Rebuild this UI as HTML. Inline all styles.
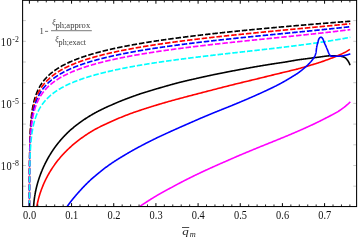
<!DOCTYPE html>
<html><head><meta charset="utf-8"><title>plot</title>
<style>
html,body{margin:0;padding:0;background:#fff;}
body{width:361px;height:240px;overflow:hidden;font-family:"Liberation Serif",serif;}
svg{display:block;will-change:transform;}
text{font-family:"Liberation Serif",serif;}
</style></head><body>
<svg width="361" height="240" viewBox="0 0 361 240">
<rect x="0" y="0" width="361" height="240" fill="#fff"/>
<defs><clipPath id="c"><rect x="22.6" y="0.3" width="334.0" height="206.75"/></clipPath></defs>
<g clip-path="url(#c)" fill="none" stroke-width="1.6" stroke-linejoin="round">
<g transform="scale(1,1.08)" stroke-width="1.55">
<path d="M29.41,198.36 L29.41,197.59 L29.41,196.82 L29.41,196.05 L29.41,195.27 L29.41,194.50 L29.41,193.73 L29.41,192.96 L29.41,192.19 L29.41,191.42 L29.41,190.65 L29.41,189.88 L29.41,189.11 L29.42,188.34 L29.42,187.57 L29.42,186.80 L29.42,186.03 L29.42,185.26 L29.42,184.49 L29.42,183.72 L29.42,182.95 L29.42,182.18 L29.42,181.41 L29.42,180.63 L29.43,179.86 L29.43,179.09 L29.43,178.32 L29.43,177.55 L29.43,176.78 L29.43,176.01 L29.43,175.24 L29.44,174.47 L29.44,173.70 L29.44,172.93 L29.44,172.16 L29.44,171.39 L29.45,170.62 L29.45,169.85 L29.45,169.08 L29.45,168.31 L29.45,167.54 L29.46,166.77 L29.46,165.99 L29.46,165.22 L29.47,164.45 L29.47,163.68 L29.47,162.91 L29.48,162.14 L29.48,161.37 L29.48,160.60 L29.49,159.83 L29.49,159.06 L29.49,158.29 L29.50,157.52 L29.50,156.75 L29.51,155.98 L29.51,155.21 L29.52,154.44 L29.53,153.67 L29.53,152.90 L29.54,152.13 L29.54,151.35 L29.55,150.58 L29.56,149.81 L29.57,149.04 L29.57,148.27 L29.58,147.50 L29.59,146.73 L29.60,145.96 L29.61,145.19 L29.62,144.42 L29.63,143.65 L29.64,142.88 L29.65,142.11 L29.66,141.34 L29.67,140.57 L29.69,139.80 L29.70,139.03 L29.72,138.26 L29.73,137.49 L29.75,136.72 L29.76,135.94 L29.78,135.17 L29.80,134.40 L29.82,133.63 L29.84,132.86 L29.86,132.09 L29.88,131.32 L29.90,130.55 L29.93,129.78 L29.95,129.01 L29.98,128.24 L30.00,127.47 L30.03,126.70 L30.06,125.93 L30.09,125.16 L30.13,124.39 L30.16,123.62 L30.20,122.85 L30.23,122.08 L30.27,121.30 L30.32,120.53 L30.36,119.76 L30.40,118.99 L30.45,118.22 L30.50,117.45 L30.55,116.68 L30.61,115.91 L30.67,115.14 L30.73,114.37 L30.79,113.60 L30.85,112.83 L30.92,112.06 L31.00,111.29 L31.07,110.52 L31.15,109.75 L31.23,108.98 L31.32,108.21 L31.41,107.44 L31.51,106.66 L31.61,105.89 L31.71,105.12 L31.82,104.35 L31.93,103.58 L32.05,102.81 L32.18,102.04 L32.31,101.27 L32.45,100.50 L32.59,99.73 L32.75,98.96 L32.90,98.19 L33.07,97.42 L33.24,96.65 L33.43,95.88 L33.62,95.11 L34.15,93.14 L34.67,91.38 L35.20,89.79 L35.73,88.34 L36.26,87.00 L36.79,85.77 L37.32,84.62 L37.85,83.54 L38.38,82.53 L38.90,81.58 L39.43,80.67 L39.96,79.82 L40.49,79.01 L41.02,78.23 L41.55,77.49 L42.08,76.78 L42.60,76.10 L43.13,75.44 L43.66,74.82 L44.19,74.21 L44.72,73.62 L45.25,73.06 L45.78,72.51 L46.31,71.98 L46.83,71.47 L47.36,70.97 L47.89,70.49 L48.42,70.02 L48.95,69.56 L49.48,69.12 L50.01,68.68 L50.53,68.26 L51.06,67.85 L51.59,67.45 L52.12,67.05 L52.65,66.67 L53.18,66.29 L53.71,65.93 L54.24,65.57 L54.76,65.22 L55.29,64.87 L55.82,64.53 L56.35,64.20 L56.88,63.88 L57.41,63.56 L57.94,63.25 L58.47,62.94 L58.99,62.64 L59.52,62.35 L60.05,62.05 L60.58,61.77 L61.11,61.49 L61.64,61.21 L62.17,60.94 L62.69,60.67 L63.22,60.41 L63.75,60.15 L64.28,59.89 L64.81,59.64 L65.34,59.39 L65.87,59.15 L66.40,58.91 L66.92,58.67 L67.45,58.44 L67.98,58.21 L68.51,57.98 L69.04,57.75 L69.57,57.53 L70.10,57.31 L70.63,57.10 L71.15,56.88 L71.68,56.67 L72.21,56.46 L72.74,56.26 L73.27,56.05 L73.80,55.85 L74.33,55.65 L74.85,55.46 L75.38,55.26 L75.91,55.07 L76.44,54.88 L76.97,54.69 L77.50,54.51 L78.03,54.33 L78.56,54.14 L79.08,53.96 L79.61,53.79 L80.14,53.61 L80.67,53.44 L81.20,53.26 L81.73,53.09 L82.26,52.92 L82.78,52.76 L83.31,52.59 L83.84,52.43 L84.37,52.26 L84.90,52.10 L85.43,51.94 L85.96,51.78 L86.49,51.63 L87.01,51.47 L87.54,51.32 L88.07,51.16 L88.60,51.01 L89.13,50.86 L89.66,50.71 L90.19,50.57 L90.72,50.42 L91.24,50.28 L91.77,50.13 L92.30,49.99 L92.83,49.85 L93.36,49.71 L93.89,49.57 L94.42,49.43 L94.94,49.29 L95.47,49.16 L96.00,49.02 L96.53,48.89 L97.06,48.75 L97.59,48.62 L98.12,48.49 L98.65,48.36 L99.17,48.23 L99.70,48.11 L100.23,47.98 L100.76,47.85 L101.29,47.73 L101.82,47.60 L102.35,47.48 L102.87,47.36 L103.40,47.23 L103.93,47.11 L104.46,46.99 L104.99,46.87 L105.52,46.75 L106.05,46.64 L106.58,46.52 L107.10,46.40 L107.63,46.29 L108.16,46.17 L108.69,46.06 L109.22,45.95 L109.75,45.83 L110.28,45.72 L110.81,45.61 L111.33,45.50 L111.86,45.39 L112.39,45.28 L112.92,45.17 L113.45,45.06 L113.98,44.96 L114.51,44.85 L115.03,44.74 L115.56,44.64 L116.09,44.53 L116.62,44.43 L117.15,44.33 L117.68,44.22 L118.21,44.12 L118.74,44.02 L119.26,43.92 L119.79,43.82 L120.32,43.72 L120.85,43.62 L121.38,43.52 L121.91,43.42 L122.44,43.32 L122.96,43.22 L123.49,43.13 L124.02,43.03 L124.55,42.93 L125.08,42.84 L125.61,42.74 L126.14,42.65 L126.67,42.55 L127.19,42.46 L127.72,42.37 L128.25,42.28 L128.78,42.18 L129.31,42.09 L129.84,42.00 L130.37,41.91 L130.90,41.82 L131.42,41.73 L131.95,41.64 L132.48,41.55 L133.01,41.46 L133.54,41.37 L134.07,41.29 L134.60,41.20 L135.12,41.11 L135.65,41.02 L136.18,40.94 L136.71,40.85 L137.24,40.77 L137.77,40.68 L138.30,40.60 L138.83,40.51 L139.35,40.43 L139.88,40.34 L140.41,40.26 L140.94,40.18 L141.47,40.10 L142.00,40.01 L142.53,39.93 L143.06,39.85 L143.58,39.77 L144.11,39.69 L144.64,39.61 L145.17,39.53 L145.70,39.45 L146.23,39.37 L146.76,39.29 L147.28,39.21 L147.81,39.13 L148.34,39.05 L148.87,38.98 L149.40,38.90 L149.93,38.82 L150.46,38.74 L150.99,38.67 L151.51,38.59 L152.04,38.51 L152.57,38.44 L153.10,38.36 L153.63,38.29 L154.16,38.21 L154.69,38.14 L155.21,38.06 L155.74,37.99 L156.27,37.92 L156.80,37.84 L157.33,37.77 L157.86,37.70 L158.39,37.62 L158.92,37.55 L159.44,37.48 L159.97,37.41 L160.50,37.33 L161.03,37.26 L161.56,37.19 L162.09,37.12 L162.62,37.05 L163.15,36.98 L163.67,36.91 L164.20,36.84 L164.73,36.77 L165.26,36.70 L165.79,36.63 L166.32,36.56 L166.85,36.49 L167.37,36.42 L167.90,36.36 L168.43,36.29 L168.96,36.22 L169.49,36.15 L170.02,36.08 L170.55,36.02 L171.08,35.95 L171.60,35.88 L172.13,35.82 L172.66,35.75 L173.19,35.68 L173.72,35.62 L174.25,35.55 L174.78,35.49 L175.30,35.42 L175.83,35.36 L176.36,35.29 L176.89,35.23 L177.42,35.16 L177.95,35.10 L178.48,35.03 L179.01,34.97 L179.53,34.90 L180.06,34.84 L180.59,34.78 L181.12,34.71 L181.65,34.65 L182.18,34.59 L182.71,34.53 L183.24,34.46 L183.76,34.40 L184.29,34.34 L184.82,34.28 L185.35,34.21 L185.88,34.15 L186.41,34.09 L186.94,34.03 L187.46,33.97 L187.99,33.91 L188.52,33.85 L189.05,33.79 L189.58,33.73 L190.11,33.67 L190.64,33.61 L191.17,33.55 L191.69,33.49 L192.22,33.43 L192.75,33.37 L193.28,33.31 L193.81,33.25 L194.34,33.19 L194.87,33.13 L195.39,33.07 L195.92,33.01 L196.45,32.95 L196.98,32.90 L197.51,32.84 L198.04,32.78 L198.57,32.72 L199.10,32.66 L199.62,32.61 L200.15,32.55 L200.68,32.49 L201.21,32.43 L201.74,32.38 L202.27,32.32 L202.80,32.26 L203.33,32.21 L203.85,32.15 L204.38,32.09 L204.91,32.04 L205.44,31.98 L205.97,31.93 L206.50,31.87 L207.03,31.81 L207.55,31.76 L208.08,31.70 L208.61,31.65 L209.14,31.59 L209.67,31.54 L210.20,31.48 L210.73,31.43 L211.26,31.37 L211.78,31.32 L212.31,31.26 L212.84,31.21 L213.37,31.16 L213.90,31.10 L214.43,31.05 L214.96,30.99 L215.49,30.94 L216.01,30.89 L216.54,30.83 L217.07,30.78 L217.60,30.73 L218.13,30.67 L218.66,30.62 L219.19,30.57 L219.71,30.51 L220.24,30.46 L220.77,30.41 L221.30,30.36 L221.83,30.30 L222.36,30.25 L222.89,30.20 L223.42,30.15 L223.94,30.10 L224.47,30.04 L225.00,29.99 L225.53,29.94 L226.06,29.89 L226.59,29.84 L227.12,29.79 L227.64,29.74 L228.17,29.68 L228.70,29.63 L229.23,29.58 L229.76,29.53 L230.29,29.48 L230.82,29.43 L231.35,29.38 L231.87,29.33 L232.40,29.28 L232.93,29.23 L233.46,29.18 L233.99,29.13 L234.52,29.08 L235.05,29.03 L235.58,28.98 L236.10,28.93 L236.63,28.88 L237.16,28.83 L237.69,28.78 L238.22,28.73 L238.75,28.68 L239.28,28.63 L239.80,28.58 L240.33,28.53 L240.86,28.49 L241.39,28.44 L241.92,28.39 L242.45,28.34 L242.98,28.29 L243.51,28.24 L244.03,28.19 L244.56,28.15 L245.09,28.10 L245.62,28.05 L246.15,28.00 L246.68,27.95 L247.21,27.91 L247.73,27.86 L248.26,27.81 L248.79,27.76 L249.32,27.71 L249.85,27.67 L250.38,27.62 L250.91,27.57 L251.44,27.53 L251.96,27.48 L252.49,27.43 L253.02,27.38 L253.55,27.34 L254.08,27.29 L254.61,27.24 L255.14,27.20 L255.67,27.15 L256.19,27.10 L256.72,27.06 L257.25,27.01 L257.78,26.96 L258.31,26.92 L258.84,26.87 L259.37,26.83 L259.89,26.78 L260.42,26.73 L260.95,26.69 L261.48,26.64 L262.01,26.60 L262.54,26.55 L263.07,26.50 L263.60,26.46 L264.12,26.41 L264.65,26.37 L265.18,26.32 L265.71,26.28 L266.24,26.23 L266.77,26.19 L267.30,26.14 L267.82,26.10 L268.35,26.05 L268.88,26.01 L269.41,25.96 L269.94,25.92 L270.47,25.87 L271.00,25.83 L271.53,25.78 L272.05,25.74 L272.58,25.69 L273.11,25.65 L273.64,25.60 L274.17,25.56 L274.70,25.52 L275.23,25.47 L275.76,25.43 L276.28,25.38 L276.81,25.34 L277.34,25.29 L277.87,25.25 L278.40,25.21 L278.93,25.16 L279.46,25.12 L279.98,25.08 L280.51,25.03 L281.04,24.99 L281.57,24.94 L282.10,24.90 L282.63,24.86 L283.16,24.81 L283.69,24.77 L284.21,24.73 L284.74,24.68 L285.27,24.64 L285.80,24.60 L286.33,24.55 L286.86,24.51 L287.39,24.47 L287.92,24.43 L288.44,24.38 L288.97,24.34 L289.50,24.30 L290.03,24.25 L290.56,24.21 L291.09,24.17 L291.62,24.13 L292.14,24.08 L292.67,24.04 L293.20,24.00 L293.73,23.96 L294.26,23.92 L294.79,23.87 L295.32,23.83 L295.85,23.79 L296.37,23.75 L296.90,23.70 L297.43,23.66 L297.96,23.62 L298.49,23.58 L299.02,23.54 L299.55,23.49 L300.07,23.45 L300.60,23.41 L301.13,23.37 L301.66,23.33 L302.19,23.29 L302.72,23.24 L303.25,23.20 L303.78,23.16 L304.30,23.12 L304.83,23.08 L305.36,23.04 L305.89,23.00 L306.42,22.95 L306.95,22.91 L307.48,22.87 L308.01,22.83 L308.53,22.79 L309.06,22.75 L309.59,22.71 L310.12,22.67 L310.65,22.63 L311.18,22.59 L311.71,22.54 L312.23,22.50 L312.76,22.46 L313.29,22.42 L313.82,22.38 L314.35,22.34 L314.88,22.30 L315.41,22.26 L315.94,22.22 L316.46,22.18 L316.99,22.14 L317.52,22.10 L318.05,22.06 L318.58,22.02 L319.11,21.98 L319.64,21.94 L320.16,21.90 L320.69,21.86 L321.22,21.82 L321.75,21.78 L322.28,21.74 L322.81,21.70 L323.34,21.66 L323.87,21.62 L324.39,21.58 L324.92,21.54 L325.45,21.50 L325.98,21.46 L326.51,21.42 L327.04,21.38 L327.57,21.34 L328.10,21.30 L328.62,21.26 L329.15,21.22 L329.68,21.18 L330.21,21.14 L330.74,21.10 L331.27,21.06 L331.80,21.02 L332.32,20.98 L332.85,20.94 L333.38,20.90 L333.91,20.86 L334.44,20.82 L334.97,20.78 L335.50,20.74 L336.03,20.71 L336.55,20.67 L337.08,20.63 L337.61,20.59 L338.14,20.55 L338.67,20.51 L339.20,20.47 L339.73,20.43 L340.25,20.39 L340.78,20.35 L341.31,20.32 L341.84,20.28 L342.37,20.24 L342.90,20.20 L343.43,20.16 L343.96,20.12 L344.48,20.08 L345.01,20.04 L345.54,20.01 L346.07,19.97 L346.60,19.93 L347.13,19.89 L347.66,19.85 L348.19,19.81 L348.71,19.77 L349.24,19.74 L349.77,19.70 L350.30,19.66" stroke="#000" stroke-dasharray="5.5 1.9" stroke-dashoffset="0"/>
<path d="M29.41,198.65 L29.41,197.88 L29.41,197.11 L29.41,196.34 L29.41,195.57 L29.41,194.80 L29.41,194.02 L29.41,193.25 L29.41,192.48 L29.42,191.71 L29.42,190.94 L29.42,190.17 L29.42,189.40 L29.42,188.63 L29.42,187.86 L29.42,187.09 L29.42,186.32 L29.42,185.55 L29.42,184.78 L29.42,184.01 L29.43,183.24 L29.43,182.47 L29.43,181.70 L29.43,180.93 L29.43,180.16 L29.43,179.38 L29.43,178.61 L29.44,177.84 L29.44,177.07 L29.44,176.30 L29.44,175.53 L29.44,174.76 L29.45,173.99 L29.45,173.22 L29.45,172.45 L29.45,171.68 L29.45,170.91 L29.46,170.14 L29.46,169.37 L29.46,168.60 L29.47,167.83 L29.47,167.06 L29.47,166.29 L29.48,165.52 L29.48,164.75 L29.48,163.97 L29.49,163.20 L29.49,162.43 L29.49,161.66 L29.50,160.89 L29.50,160.12 L29.51,159.35 L29.51,158.58 L29.52,157.81 L29.53,157.04 L29.53,156.27 L29.54,155.50 L29.54,154.73 L29.55,153.96 L29.56,153.19 L29.57,152.42 L29.57,151.65 L29.58,150.88 L29.59,150.11 L29.60,149.33 L29.61,148.56 L29.62,147.79 L29.63,147.02 L29.64,146.25 L29.65,145.48 L29.66,144.71 L29.67,143.94 L29.69,143.17 L29.70,142.40 L29.72,141.63 L29.73,140.86 L29.75,140.09 L29.76,139.32 L29.78,138.55 L29.80,137.78 L29.82,137.01 L29.84,136.24 L29.86,135.47 L29.88,134.69 L29.90,133.92 L29.93,133.15 L29.95,132.38 L29.98,131.61 L30.00,130.84 L30.03,130.07 L30.06,129.30 L30.09,128.53 L30.13,127.76 L30.16,126.99 L30.20,126.22 L30.23,125.45 L30.27,124.68 L30.32,123.91 L30.36,123.14 L30.40,122.37 L30.45,121.60 L30.50,120.83 L30.55,120.05 L30.61,119.28 L30.67,118.51 L30.73,117.74 L30.79,116.97 L30.85,116.20 L30.92,115.43 L31.00,114.66 L31.07,113.89 L31.15,113.12 L31.23,112.35 L31.32,111.58 L31.41,110.81 L31.51,110.04 L31.61,109.27 L31.71,108.50 L31.82,107.73 L31.93,106.96 L32.05,106.19 L32.18,105.41 L32.31,104.64 L32.45,103.87 L32.59,103.10 L32.75,102.33 L32.90,101.56 L33.07,100.79 L33.24,100.02 L33.43,99.25 L33.62,98.48 L34.15,96.51 L34.67,94.75 L35.20,93.16 L35.73,91.71 L36.26,90.38 L36.79,89.14 L37.32,87.99 L37.85,86.91 L38.38,85.90 L38.90,84.95 L39.43,84.05 L39.96,83.19 L40.49,82.38 L41.02,81.60 L41.55,80.86 L42.08,80.15 L42.60,79.47 L43.13,78.82 L43.66,78.19 L44.19,77.58 L44.72,77.00 L45.25,76.43 L45.78,75.88 L46.31,75.36 L46.83,74.84 L47.36,74.34 L47.89,73.86 L48.42,73.39 L48.95,72.93 L49.48,72.49 L50.01,72.06 L50.53,71.63 L51.06,71.22 L51.59,70.82 L52.12,70.43 L52.65,70.04 L53.18,69.67 L53.71,69.30 L54.24,68.94 L54.76,68.59 L55.29,68.25 L55.82,67.91 L56.35,67.58 L56.88,67.25 L57.41,66.93 L57.94,66.62 L58.47,66.32 L58.99,66.01 L59.52,65.72 L60.05,65.43 L60.58,65.14 L61.11,64.86 L61.64,64.58 L62.17,64.31 L62.69,64.05 L63.22,63.78 L63.75,63.52 L64.28,63.27 L64.81,63.02 L65.34,62.77 L65.87,62.52 L66.40,62.28 L66.92,62.04 L67.45,61.81 L67.98,61.58 L68.51,61.35 L69.04,61.13 L69.57,60.90 L70.10,60.69 L70.63,60.47 L71.15,60.26 L71.68,60.04 L72.21,59.84 L72.74,59.63 L73.27,59.43 L73.80,59.23 L74.33,59.03 L74.85,58.83 L75.38,58.64 L75.91,58.45 L76.44,58.26 L76.97,58.07 L77.50,57.88 L78.03,57.70 L78.56,57.52 L79.08,57.34 L79.61,57.16 L80.14,56.98 L80.67,56.81 L81.20,56.64 L81.73,56.47 L82.26,56.30 L82.78,56.13 L83.31,55.96 L83.84,55.80 L84.37,55.64 L84.90,55.47 L85.43,55.32 L85.96,55.16 L86.49,55.00 L87.01,54.84 L87.54,54.69 L88.07,54.54 L88.60,54.39 L89.13,54.24 L89.66,54.09 L90.19,53.94 L90.72,53.79 L91.24,53.65 L91.77,53.50 L92.30,53.36 L92.83,53.22 L93.36,53.08 L93.89,52.94 L94.42,52.80 L94.94,52.67 L95.47,52.53 L96.00,52.40 L96.53,52.26 L97.06,52.13 L97.59,52.00 L98.12,51.87 L98.65,51.74 L99.17,51.61 L99.70,51.48 L100.23,51.35 L100.76,51.23 L101.29,51.10 L101.82,50.98 L102.35,50.85 L102.87,50.73 L103.40,50.61 L103.93,50.49 L104.46,50.37 L104.99,50.25 L105.52,50.13 L106.05,50.01 L106.58,49.89 L107.10,49.78 L107.63,49.66 L108.16,49.55 L108.69,49.43 L109.22,49.32 L109.75,49.21 L110.28,49.09 L110.81,48.98 L111.33,48.87 L111.86,48.76 L112.39,48.65 L112.92,48.54 L113.45,48.44 L113.98,48.33 L114.51,48.22 L115.03,48.12 L115.56,48.01 L116.09,47.91 L116.62,47.80 L117.15,47.70 L117.68,47.60 L118.21,47.49 L118.74,47.39 L119.26,47.29 L119.79,47.19 L120.32,47.09 L120.85,46.99 L121.38,46.89 L121.91,46.79 L122.44,46.69 L122.96,46.60 L123.49,46.50 L124.02,46.40 L124.55,46.31 L125.08,46.21 L125.61,46.12 L126.14,46.02 L126.67,45.93 L127.19,45.83 L127.72,45.74 L128.25,45.65 L128.78,45.56 L129.31,45.46 L129.84,45.37 L130.37,45.28 L130.90,45.19 L131.42,45.10 L131.95,45.01 L132.48,44.92 L133.01,44.83 L133.54,44.75 L134.07,44.66 L134.60,44.57 L135.12,44.48 L135.65,44.40 L136.18,44.31 L136.71,44.22 L137.24,44.14 L137.77,44.05 L138.30,43.97 L138.83,43.88 L139.35,43.80 L139.88,43.72 L140.41,43.63 L140.94,43.55 L141.47,43.47 L142.00,43.39 L142.53,43.30 L143.06,43.22 L143.58,43.14 L144.11,43.06 L144.64,42.98 L145.17,42.90 L145.70,42.82 L146.23,42.74 L146.76,42.66 L147.28,42.58 L147.81,42.50 L148.34,42.43 L148.87,42.35 L149.40,42.27 L149.93,42.19 L150.46,42.12 L150.99,42.04 L151.51,41.96 L152.04,41.89 L152.57,41.81 L153.10,41.73 L153.63,41.66 L154.16,41.58 L154.69,41.51 L155.21,41.43 L155.74,41.36 L156.27,41.29 L156.80,41.21 L157.33,41.14 L157.86,41.07 L158.39,40.99 L158.92,40.92 L159.44,40.85 L159.97,40.78 L160.50,40.70 L161.03,40.63 L161.56,40.56 L162.09,40.49 L162.62,40.42 L163.15,40.35 L163.67,40.28 L164.20,40.21 L164.73,40.14 L165.26,40.07 L165.79,40.00 L166.32,39.93 L166.85,39.86 L167.37,39.79 L167.90,39.72 L168.43,39.66 L168.96,39.59 L169.49,39.52 L170.02,39.45 L170.55,39.39 L171.08,39.32 L171.60,39.25 L172.13,39.18 L172.66,39.12 L173.19,39.05 L173.72,38.98 L174.25,38.92 L174.78,38.85 L175.30,38.79 L175.83,38.72 L176.36,38.66 L176.89,38.59 L177.42,38.53 L177.95,38.46 L178.48,38.40 L179.01,38.33 L179.53,38.27 L180.06,38.21 L180.59,38.14 L181.12,38.08 L181.65,38.02 L182.18,37.95 L182.71,37.89 L183.24,37.83 L183.76,37.76 L184.29,37.70 L184.82,37.64 L185.35,37.58 L185.88,37.52 L186.41,37.45 L186.94,37.39 L187.46,37.33 L187.99,37.27 L188.52,37.21 L189.05,37.15 L189.58,37.09 L190.11,37.03 L190.64,36.97 L191.17,36.91 L191.69,36.85 L192.22,36.79 L192.75,36.73 L193.28,36.67 L193.81,36.61 L194.34,36.55 L194.87,36.49 L195.39,36.43 L195.92,36.37 L196.45,36.31 L196.98,36.25 L197.51,36.19 L198.04,36.14 L198.57,36.08 L199.10,36.02 L199.62,35.96 L200.15,35.90 L200.68,35.85 L201.21,35.79 L201.74,35.73 L202.27,35.67 L202.80,35.62 L203.33,35.56 L203.85,35.50 L204.38,35.45 L204.91,35.39 L205.44,35.33 L205.97,35.28 L206.50,35.22 L207.03,35.16 L207.55,35.11 L208.08,35.05 L208.61,35.00 L209.14,34.94 L209.67,34.88 L210.20,34.83 L210.73,34.77 L211.26,34.72 L211.78,34.66 L212.31,34.61 L212.84,34.55 L213.37,34.50 L213.90,34.44 L214.43,34.39 L214.96,34.34 L215.49,34.28 L216.01,34.23 L216.54,34.17 L217.07,34.12 L217.60,34.06 L218.13,34.01 L218.66,33.96 L219.19,33.90 L219.71,33.85 L220.24,33.80 L220.77,33.74 L221.30,33.69 L221.83,33.64 L222.36,33.58 L222.89,33.53 L223.42,33.48 L223.94,33.43 L224.47,33.37 L225.00,33.32 L225.53,33.27 L226.06,33.22 L226.59,33.16 L227.12,33.11 L227.64,33.06 L228.17,33.01 L228.70,32.96 L229.23,32.90 L229.76,32.85 L230.29,32.80 L230.82,32.75 L231.35,32.70 L231.87,32.65 L232.40,32.60 L232.93,32.54 L233.46,32.49 L233.99,32.44 L234.52,32.39 L235.05,32.34 L235.58,32.29 L236.10,32.24 L236.63,32.19 L237.16,32.14 L237.69,32.09 L238.22,32.04 L238.75,31.99 L239.28,31.94 L239.80,31.89 L240.33,31.84 L240.86,31.79 L241.39,31.74 L241.92,31.69 L242.45,31.64 L242.98,31.59 L243.51,31.54 L244.03,31.49 L244.56,31.44 L245.09,31.39 L245.62,31.34 L246.15,31.29 L246.68,31.24 L247.21,31.19 L247.73,31.14 L248.26,31.09 L248.79,31.04 L249.32,30.99 L249.85,30.94 L250.38,30.90 L250.91,30.85 L251.44,30.80 L251.96,30.75 L252.49,30.70 L253.02,30.65 L253.55,30.60 L254.08,30.55 L254.61,30.51 L255.14,30.46 L255.67,30.41 L256.19,30.36 L256.72,30.31 L257.25,30.26 L257.78,30.22 L258.31,30.17 L258.84,30.12 L259.37,30.07 L259.89,30.02 L260.42,29.98 L260.95,29.93 L261.48,29.88 L262.01,29.83 L262.54,29.78 L263.07,29.74 L263.60,29.69 L264.12,29.64 L264.65,29.59 L265.18,29.55 L265.71,29.50 L266.24,29.45 L266.77,29.40 L267.30,29.36 L267.82,29.31 L268.35,29.26 L268.88,29.21 L269.41,29.17 L269.94,29.12 L270.47,29.07 L271.00,29.03 L271.53,28.98 L272.05,28.93 L272.58,28.88 L273.11,28.84 L273.64,28.79 L274.17,28.74 L274.70,28.70 L275.23,28.65 L275.76,28.60 L276.28,28.56 L276.81,28.51 L277.34,28.46 L277.87,28.42 L278.40,28.37 L278.93,28.32 L279.46,28.28 L279.98,28.23 L280.51,28.18 L281.04,28.14 L281.57,28.09 L282.10,28.04 L282.63,28.00 L283.16,27.95 L283.69,27.90 L284.21,27.86 L284.74,27.81 L285.27,27.76 L285.80,27.72 L286.33,27.67 L286.86,27.62 L287.39,27.58 L287.92,27.53 L288.44,27.49 L288.97,27.44 L289.50,27.39 L290.03,27.35 L290.56,27.30 L291.09,27.25 L291.62,27.21 L292.14,27.16 L292.67,27.11 L293.20,27.07 L293.73,27.02 L294.26,26.98 L294.79,26.93 L295.32,26.88 L295.85,26.84 L296.37,26.79 L296.90,26.74 L297.43,26.70 L297.96,26.65 L298.49,26.61 L299.02,26.56 L299.55,26.51 L300.07,26.47 L300.60,26.42 L301.13,26.37 L301.66,26.33 L302.19,26.28 L302.72,26.24 L303.25,26.19 L303.78,26.14 L304.30,26.10 L304.83,26.05 L305.36,26.00 L305.89,25.96 L306.42,25.91 L306.95,25.87 L307.48,25.82 L308.01,25.77 L308.53,25.73 L309.06,25.68 L309.59,25.63 L310.12,25.59 L310.65,25.54 L311.18,25.49 L311.71,25.45 L312.23,25.40 L312.76,25.35 L313.29,25.31 L313.82,25.26 L314.35,25.21 L314.88,25.17 L315.41,25.12 L315.94,25.08 L316.46,25.03 L316.99,24.98 L317.52,24.94 L318.05,24.89 L318.58,24.84 L319.11,24.80 L319.64,24.75 L320.16,24.70 L320.69,24.65 L321.22,24.61 L321.75,24.56 L322.28,24.51 L322.81,24.47 L323.34,24.42 L323.87,24.37 L324.39,24.33 L324.92,24.28 L325.45,24.23 L325.98,24.18 L326.51,24.14 L327.04,24.09 L327.57,24.04 L328.10,24.00 L328.62,23.95 L329.15,23.90 L329.68,23.85 L330.21,23.81 L330.74,23.76 L331.27,23.71 L331.80,23.66 L332.32,23.62 L332.85,23.57 L333.38,23.52 L333.91,23.47 L334.44,23.42 L334.97,23.38 L335.50,23.33 L336.03,23.28 L336.55,23.23 L337.08,23.18 L337.61,23.14 L338.14,23.09 L338.67,23.04 L339.20,22.99 L339.73,22.94 L340.25,22.90 L340.78,22.85 L341.31,22.80 L341.84,22.75 L342.37,22.70 L342.90,22.65 L343.43,22.60 L343.96,22.55 L344.48,22.51 L345.01,22.46 L345.54,22.41 L346.07,22.36 L346.60,22.31 L347.13,22.26 L347.66,22.21 L348.19,22.16 L348.71,22.11 L349.24,22.06 L349.77,22.01 L350.30,21.96" stroke="#f00" stroke-dasharray="5.5 1.9" stroke-dashoffset="-1.0"/>
<path d="M29.41,198.77 L29.41,198.00 L29.41,197.23 L29.41,196.46 L29.41,195.68 L29.42,194.91 L29.42,194.14 L29.42,193.37 L29.42,192.60 L29.42,191.83 L29.42,191.06 L29.42,190.29 L29.42,189.52 L29.42,188.75 L29.42,187.98 L29.42,187.21 L29.43,186.44 L29.43,185.67 L29.43,184.90 L29.43,184.13 L29.43,183.36 L29.43,182.59 L29.43,181.82 L29.44,181.04 L29.44,180.27 L29.44,179.50 L29.44,178.73 L29.44,177.96 L29.45,177.19 L29.45,176.42 L29.45,175.65 L29.45,174.88 L29.45,174.11 L29.46,173.34 L29.46,172.57 L29.46,171.80 L29.47,171.03 L29.47,170.26 L29.47,169.49 L29.48,168.72 L29.48,167.95 L29.48,167.18 L29.49,166.40 L29.49,165.63 L29.49,164.86 L29.50,164.09 L29.50,163.32 L29.51,162.55 L29.51,161.78 L29.52,161.01 L29.53,160.24 L29.53,159.47 L29.54,158.70 L29.54,157.93 L29.55,157.16 L29.56,156.39 L29.57,155.62 L29.57,154.85 L29.58,154.08 L29.59,153.31 L29.60,152.54 L29.61,151.76 L29.62,150.99 L29.63,150.22 L29.64,149.45 L29.65,148.68 L29.66,147.91 L29.67,147.14 L29.69,146.37 L29.70,145.60 L29.72,144.83 L29.73,144.06 L29.75,143.29 L29.76,142.52 L29.78,141.75 L29.80,140.98 L29.82,140.21 L29.84,139.44 L29.86,138.67 L29.88,137.90 L29.90,137.13 L29.93,136.35 L29.95,135.58 L29.98,134.81 L30.00,134.04 L30.03,133.27 L30.06,132.50 L30.09,131.73 L30.13,130.96 L30.16,130.19 L30.20,129.42 L30.23,128.65 L30.27,127.88 L30.32,127.11 L30.36,126.34 L30.40,125.57 L30.45,124.80 L30.50,124.03 L30.55,123.26 L30.61,122.49 L30.67,121.71 L30.73,120.94 L30.79,120.17 L30.85,119.40 L30.92,118.63 L31.00,117.86 L31.07,117.09 L31.15,116.32 L31.23,115.55 L31.32,114.78 L31.41,114.01 L31.51,113.24 L31.61,112.47 L31.71,111.70 L31.82,110.93 L31.93,110.16 L32.05,109.39 L32.18,108.62 L32.31,107.85 L32.45,107.07 L32.59,106.30 L32.75,105.53 L32.90,104.76 L33.07,103.99 L33.24,103.22 L33.43,102.45 L33.62,101.68 L34.15,99.71 L34.67,97.96 L35.20,96.37 L35.73,94.91 L36.26,93.58 L36.79,92.34 L37.32,91.19 L37.85,90.11 L38.38,89.10 L38.90,88.15 L39.43,87.25 L39.96,86.39 L40.49,85.58 L41.02,84.80 L41.55,84.06 L42.08,83.35 L42.60,82.67 L43.13,82.02 L43.66,81.39 L44.19,80.78 L44.72,80.20 L45.25,79.63 L45.78,79.09 L46.31,78.56 L46.83,78.04 L47.36,77.54 L47.89,77.06 L48.42,76.59 L48.95,76.13 L49.48,75.69 L50.01,75.26 L50.53,74.83 L51.06,74.42 L51.59,74.02 L52.12,73.63 L52.65,73.24 L53.18,72.87 L53.71,72.50 L54.24,72.14 L54.76,71.79 L55.29,71.45 L55.82,71.11 L56.35,70.78 L56.88,70.45 L57.41,70.14 L57.94,69.82 L58.47,69.52 L58.99,69.22 L59.52,68.92 L60.05,68.63 L60.58,68.34 L61.11,68.06 L61.64,67.79 L62.17,67.51 L62.69,67.25 L63.22,66.98 L63.75,66.72 L64.28,66.47 L64.81,66.22 L65.34,65.97 L65.87,65.72 L66.40,65.48 L66.92,65.25 L67.45,65.01 L67.98,64.78 L68.51,64.55 L69.04,64.33 L69.57,64.11 L70.10,63.89 L70.63,63.67 L71.15,63.46 L71.68,63.25 L72.21,63.04 L72.74,62.83 L73.27,62.63 L73.80,62.43 L74.33,62.23 L74.85,62.03 L75.38,61.84 L75.91,61.65 L76.44,61.46 L76.97,61.27 L77.50,61.08 L78.03,60.90 L78.56,60.72 L79.08,60.54 L79.61,60.36 L80.14,60.18 L80.67,60.01 L81.20,59.84 L81.73,59.67 L82.26,59.50 L82.78,59.33 L83.31,59.16 L83.84,59.00 L84.37,58.84 L84.90,58.68 L85.43,58.52 L85.96,58.36 L86.49,58.20 L87.01,58.05 L87.54,57.89 L88.07,57.74 L88.60,57.59 L89.13,57.44 L89.66,57.29 L90.19,57.14 L90.72,56.99 L91.24,56.85 L91.77,56.71 L92.30,56.56 L92.83,56.42 L93.36,56.28 L93.89,56.14 L94.42,56.00 L94.94,55.87 L95.47,55.73 L96.00,55.60 L96.53,55.46 L97.06,55.33 L97.59,55.20 L98.12,55.07 L98.65,54.94 L99.17,54.81 L99.70,54.68 L100.23,54.55 L100.76,54.43 L101.29,54.30 L101.82,54.18 L102.35,54.05 L102.87,53.93 L103.40,53.81 L103.93,53.69 L104.46,53.57 L104.99,53.45 L105.52,53.33 L106.05,53.21 L106.58,53.09 L107.10,52.98 L107.63,52.86 L108.16,52.75 L108.69,52.63 L109.22,52.52 L109.75,52.41 L110.28,52.29 L110.81,52.18 L111.33,52.07 L111.86,51.96 L112.39,51.85 L112.92,51.75 L113.45,51.64 L113.98,51.53 L114.51,51.42 L115.03,51.32 L115.56,51.21 L116.09,51.11 L116.62,51.00 L117.15,50.90 L117.68,50.80 L118.21,50.69 L118.74,50.59 L119.26,50.49 L119.79,50.39 L120.32,50.29 L120.85,50.19 L121.38,50.09 L121.91,49.99 L122.44,49.89 L122.96,49.80 L123.49,49.70 L124.02,49.60 L124.55,49.51 L125.08,49.41 L125.61,49.32 L126.14,49.22 L126.67,49.13 L127.19,49.03 L127.72,48.94 L128.25,48.85 L128.78,48.76 L129.31,48.66 L129.84,48.57 L130.37,48.48 L130.90,48.39 L131.42,48.30 L131.95,48.21 L132.48,48.12 L133.01,48.03 L133.54,47.95 L134.07,47.86 L134.60,47.77 L135.12,47.68 L135.65,47.60 L136.18,47.51 L136.71,47.42 L137.24,47.34 L137.77,47.25 L138.30,47.17 L138.83,47.08 L139.35,47.00 L139.88,46.92 L140.41,46.83 L140.94,46.75 L141.47,46.67 L142.00,46.59 L142.53,46.50 L143.06,46.42 L143.58,46.34 L144.11,46.26 L144.64,46.18 L145.17,46.10 L145.70,46.02 L146.23,45.94 L146.76,45.86 L147.28,45.78 L147.81,45.70 L148.34,45.63 L148.87,45.55 L149.40,45.47 L149.93,45.39 L150.46,45.32 L150.99,45.24 L151.51,45.16 L152.04,45.09 L152.57,45.01 L153.10,44.93 L153.63,44.86 L154.16,44.78 L154.69,44.71 L155.21,44.63 L155.74,44.56 L156.27,44.49 L156.80,44.41 L157.33,44.34 L157.86,44.27 L158.39,44.19 L158.92,44.12 L159.44,44.05 L159.97,43.98 L160.50,43.90 L161.03,43.83 L161.56,43.76 L162.09,43.69 L162.62,43.62 L163.15,43.55 L163.67,43.48 L164.20,43.41 L164.73,43.34 L165.26,43.27 L165.79,43.20 L166.32,43.13 L166.85,43.06 L167.37,42.99 L167.90,42.92 L168.43,42.85 L168.96,42.79 L169.49,42.72 L170.02,42.65 L170.55,42.58 L171.08,42.52 L171.60,42.45 L172.13,42.38 L172.66,42.32 L173.19,42.25 L173.72,42.18 L174.25,42.12 L174.78,42.05 L175.30,41.99 L175.83,41.92 L176.36,41.85 L176.89,41.79 L177.42,41.73 L177.95,41.66 L178.48,41.60 L179.01,41.53 L179.53,41.47 L180.06,41.40 L180.59,41.34 L181.12,41.28 L181.65,41.21 L182.18,41.15 L182.71,41.09 L183.24,41.02 L183.76,40.96 L184.29,40.90 L184.82,40.84 L185.35,40.77 L185.88,40.71 L186.41,40.65 L186.94,40.59 L187.46,40.53 L187.99,40.47 L188.52,40.40 L189.05,40.34 L189.58,40.28 L190.11,40.22 L190.64,40.16 L191.17,40.10 L191.69,40.04 L192.22,39.98 L192.75,39.92 L193.28,39.86 L193.81,39.80 L194.34,39.74 L194.87,39.68 L195.39,39.62 L195.92,39.56 L196.45,39.51 L196.98,39.45 L197.51,39.39 L198.04,39.33 L198.57,39.27 L199.10,39.21 L199.62,39.15 L200.15,39.10 L200.68,39.04 L201.21,38.98 L201.74,38.92 L202.27,38.87 L202.80,38.81 L203.33,38.75 L203.85,38.69 L204.38,38.64 L204.91,38.58 L205.44,38.52 L205.97,38.47 L206.50,38.41 L207.03,38.35 L207.55,38.30 L208.08,38.24 L208.61,38.19 L209.14,38.13 L209.67,38.07 L210.20,38.02 L210.73,37.96 L211.26,37.91 L211.78,37.85 L212.31,37.80 L212.84,37.74 L213.37,37.69 L213.90,37.63 L214.43,37.58 L214.96,37.52 L215.49,37.47 L216.01,37.41 L216.54,37.36 L217.07,37.31 L217.60,37.25 L218.13,37.20 L218.66,37.14 L219.19,37.09 L219.71,37.04 L220.24,36.98 L220.77,36.93 L221.30,36.88 L221.83,36.82 L222.36,36.77 L222.89,36.72 L223.42,36.66 L223.94,36.61 L224.47,36.56 L225.00,36.50 L225.53,36.45 L226.06,36.40 L226.59,36.35 L227.12,36.29 L227.64,36.24 L228.17,36.19 L228.70,36.14 L229.23,36.08 L229.76,36.03 L230.29,35.98 L230.82,35.93 L231.35,35.88 L231.87,35.82 L232.40,35.77 L232.93,35.72 L233.46,35.67 L233.99,35.62 L234.52,35.57 L235.05,35.52 L235.58,35.46 L236.10,35.41 L236.63,35.36 L237.16,35.31 L237.69,35.26 L238.22,35.21 L238.75,35.16 L239.28,35.11 L239.80,35.06 L240.33,35.01 L240.86,34.96 L241.39,34.91 L241.92,34.85 L242.45,34.80 L242.98,34.75 L243.51,34.70 L244.03,34.65 L244.56,34.60 L245.09,34.55 L245.62,34.50 L246.15,34.45 L246.68,34.40 L247.21,34.35 L247.73,34.30 L248.26,34.25 L248.79,34.20 L249.32,34.16 L249.85,34.11 L250.38,34.06 L250.91,34.01 L251.44,33.96 L251.96,33.91 L252.49,33.86 L253.02,33.81 L253.55,33.76 L254.08,33.71 L254.61,33.66 L255.14,33.61 L255.67,33.56 L256.19,33.51 L256.72,33.47 L257.25,33.42 L257.78,33.37 L258.31,33.32 L258.84,33.27 L259.37,33.22 L259.89,33.17 L260.42,33.12 L260.95,33.08 L261.48,33.03 L262.01,32.98 L262.54,32.93 L263.07,32.88 L263.60,32.83 L264.12,32.78 L264.65,32.74 L265.18,32.69 L265.71,32.64 L266.24,32.59 L266.77,32.54 L267.30,32.49 L267.82,32.45 L268.35,32.40 L268.88,32.35 L269.41,32.30 L269.94,32.25 L270.47,32.20 L271.00,32.16 L271.53,32.11 L272.05,32.06 L272.58,32.01 L273.11,31.96 L273.64,31.92 L274.17,31.87 L274.70,31.82 L275.23,31.77 L275.76,31.72 L276.28,31.68 L276.81,31.63 L277.34,31.58 L277.87,31.53 L278.40,31.48 L278.93,31.44 L279.46,31.39 L279.98,31.34 L280.51,31.29 L281.04,31.25 L281.57,31.20 L282.10,31.15 L282.63,31.10 L283.16,31.05 L283.69,31.01 L284.21,30.96 L284.74,30.91 L285.27,30.86 L285.80,30.82 L286.33,30.77 L286.86,30.72 L287.39,30.67 L287.92,30.62 L288.44,30.58 L288.97,30.53 L289.50,30.48 L290.03,30.43 L290.56,30.38 L291.09,30.34 L291.62,30.29 L292.14,30.24 L292.67,30.19 L293.20,30.15 L293.73,30.10 L294.26,30.05 L294.79,30.00 L295.32,29.95 L295.85,29.91 L296.37,29.86 L296.90,29.81 L297.43,29.76 L297.96,29.71 L298.49,29.67 L299.02,29.62 L299.55,29.57 L300.07,29.52 L300.60,29.47 L301.13,29.43 L301.66,29.38 L302.19,29.33 L302.72,29.28 L303.25,29.23 L303.78,29.18 L304.30,29.14 L304.83,29.09 L305.36,29.04 L305.89,28.99 L306.42,28.94 L306.95,28.89 L307.48,28.85 L308.01,28.80 L308.53,28.75 L309.06,28.70 L309.59,28.65 L310.12,28.60 L310.65,28.55 L311.18,28.51 L311.71,28.46 L312.23,28.41 L312.76,28.36 L313.29,28.31 L313.82,28.26 L314.35,28.21 L314.88,28.16 L315.41,28.11 L315.94,28.07 L316.46,28.02 L316.99,27.97 L317.52,27.92 L318.05,27.87 L318.58,27.82 L319.11,27.77 L319.64,27.72 L320.16,27.67 L320.69,27.62 L321.22,27.57 L321.75,27.52 L322.28,27.47 L322.81,27.42 L323.34,27.37 L323.87,27.32 L324.39,27.27 L324.92,27.22 L325.45,27.17 L325.98,27.12 L326.51,27.07 L327.04,27.02 L327.57,26.97 L328.10,26.92 L328.62,26.87 L329.15,26.82 L329.68,26.77 L330.21,26.72 L330.74,26.67 L331.27,26.62 L331.80,26.57 L332.32,26.52 L332.85,26.47 L333.38,26.41 L333.91,26.36 L334.44,26.31 L334.97,26.26 L335.50,26.21 L336.03,26.16 L336.55,26.11 L337.08,26.05 L337.61,26.00 L338.14,25.95 L338.67,25.90 L339.20,25.85 L339.73,25.79 L340.25,25.74 L340.78,25.69 L341.31,25.64 L341.84,25.59 L342.37,25.53 L342.90,25.48 L343.43,25.43 L343.96,25.37 L344.48,25.32 L345.01,25.27 L345.54,25.21 L346.07,25.16 L346.60,25.11 L347.13,25.05 L347.66,25.00 L348.19,24.95 L348.71,24.89 L349.24,24.84 L349.77,24.79 L350.30,24.73" stroke="#00f" stroke-dasharray="5.5 1.9" stroke-dashoffset="0"/>
<path d="M29.42,198.34 L29.42,197.57 L29.42,196.80 L29.42,196.03 L29.42,195.26 L29.42,194.49 L29.42,193.72 L29.42,192.95 L29.42,192.18 L29.42,191.41 L29.42,190.64 L29.43,189.87 L29.43,189.10 L29.43,188.33 L29.43,187.56 L29.43,186.79 L29.43,186.02 L29.43,185.25 L29.44,184.48 L29.44,183.71 L29.44,182.93 L29.44,182.16 L29.44,181.39 L29.45,180.62 L29.45,179.85 L29.45,179.08 L29.45,178.31 L29.45,177.54 L29.46,176.77 L29.46,176.00 L29.46,175.23 L29.47,174.46 L29.47,173.69 L29.47,172.92 L29.48,172.15 L29.48,171.38 L29.48,170.61 L29.49,169.84 L29.49,169.07 L29.49,168.29 L29.50,167.52 L29.50,166.75 L29.51,165.98 L29.51,165.21 L29.52,164.44 L29.53,163.67 L29.53,162.90 L29.54,162.13 L29.54,161.36 L29.55,160.59 L29.56,159.82 L29.57,159.05 L29.57,158.28 L29.58,157.51 L29.59,156.74 L29.60,155.97 L29.61,155.20 L29.62,154.43 L29.63,153.65 L29.64,152.88 L29.65,152.11 L29.66,151.34 L29.67,150.57 L29.69,149.80 L29.70,149.03 L29.72,148.26 L29.73,147.49 L29.75,146.72 L29.76,145.95 L29.78,145.18 L29.80,144.41 L29.82,143.64 L29.84,142.87 L29.86,142.10 L29.88,141.33 L29.90,140.56 L29.93,139.79 L29.95,139.01 L29.98,138.24 L30.00,137.47 L30.03,136.70 L30.06,135.93 L30.09,135.16 L30.13,134.39 L30.16,133.62 L30.20,132.85 L30.23,132.08 L30.27,131.31 L30.32,130.54 L30.36,129.77 L30.40,129.00 L30.45,128.23 L30.50,127.46 L30.55,126.69 L30.61,125.92 L30.67,125.15 L30.73,124.37 L30.79,123.60 L30.85,122.83 L30.92,122.06 L31.00,121.29 L31.07,120.52 L31.15,119.75 L31.23,118.98 L31.32,118.21 L31.41,117.44 L31.51,116.67 L31.61,115.90 L31.71,115.13 L31.82,114.36 L31.93,113.59 L32.05,112.82 L32.18,112.05 L32.31,111.28 L32.45,110.51 L32.59,109.73 L32.75,108.96 L32.90,108.19 L33.07,107.42 L33.24,106.65 L33.43,105.88 L33.62,105.11 L34.15,103.15 L34.67,101.39 L35.20,99.80 L35.73,98.34 L36.26,97.01 L36.79,95.77 L37.32,94.62 L37.85,93.55 L38.38,92.53 L38.90,91.58 L39.43,90.68 L39.96,89.82 L40.49,89.01 L41.02,88.24 L41.55,87.49 L42.08,86.78 L42.60,86.10 L43.13,85.45 L43.66,84.82 L44.19,84.21 L44.72,83.63 L45.25,83.06 L45.78,82.52 L46.31,81.99 L46.83,81.47 L47.36,80.98 L47.89,80.49 L48.42,80.02 L48.95,79.57 L49.48,79.12 L50.01,78.69 L50.53,78.26 L51.06,77.85 L51.59,77.45 L52.12,77.06 L52.65,76.67 L53.18,76.30 L53.71,75.93 L54.24,75.57 L54.76,75.22 L55.29,74.88 L55.82,74.54 L56.35,74.21 L56.88,73.88 L57.41,73.57 L57.94,73.25 L58.47,72.95 L58.99,72.65 L59.52,72.35 L60.05,72.06 L60.58,71.77 L61.11,71.49 L61.64,71.22 L62.17,70.94 L62.69,70.68 L63.22,70.41 L63.75,70.15 L64.28,69.90 L64.81,69.65 L65.34,69.40 L65.87,69.15 L66.40,68.91 L66.92,68.68 L67.45,68.44 L67.98,68.21 L68.51,67.98 L69.04,67.76 L69.57,67.54 L70.10,67.32 L70.63,67.10 L71.15,66.89 L71.68,66.68 L72.21,66.47 L72.74,66.26 L73.27,66.06 L73.80,65.86 L74.33,65.66 L74.85,65.46 L75.38,65.27 L75.91,65.08 L76.44,64.89 L76.97,64.70 L77.50,64.51 L78.03,64.33 L78.56,64.15 L79.08,63.97 L79.61,63.79 L80.14,63.62 L80.67,63.44 L81.20,63.27 L81.73,63.10 L82.26,62.93 L82.78,62.76 L83.31,62.59 L83.84,62.43 L84.37,62.27 L84.90,62.11 L85.43,61.95 L85.96,61.79 L86.49,61.63 L87.01,61.48 L87.54,61.32 L88.07,61.17 L88.60,61.02 L89.13,60.87 L89.66,60.72 L90.19,60.57 L90.72,60.43 L91.24,60.28 L91.77,60.14 L92.30,59.99 L92.83,59.85 L93.36,59.71 L93.89,59.57 L94.42,59.43 L94.94,59.30 L95.47,59.16 L96.00,59.03 L96.53,58.89 L97.06,58.76 L97.59,58.63 L98.12,58.50 L98.65,58.37 L99.17,58.24 L99.70,58.11 L100.23,57.98 L100.76,57.86 L101.29,57.73 L101.82,57.61 L102.35,57.48 L102.87,57.36 L103.40,57.24 L103.93,57.12 L104.46,57.00 L104.99,56.88 L105.52,56.76 L106.05,56.64 L106.58,56.52 L107.10,56.41 L107.63,56.29 L108.16,56.18 L108.69,56.06 L109.22,55.95 L109.75,55.84 L110.28,55.73 L110.81,55.61 L111.33,55.50 L111.86,55.39 L112.39,55.28 L112.92,55.18 L113.45,55.07 L113.98,54.96 L114.51,54.85 L115.03,54.75 L115.56,54.64 L116.09,54.54 L116.62,54.43 L117.15,54.33 L117.68,54.23 L118.21,54.12 L118.74,54.02 L119.26,53.92 L119.79,53.82 L120.32,53.72 L120.85,53.62 L121.38,53.52 L121.91,53.42 L122.44,53.32 L122.96,53.23 L123.49,53.13 L124.02,53.03 L124.55,52.94 L125.08,52.84 L125.61,52.75 L126.14,52.65 L126.67,52.56 L127.19,52.46 L127.72,52.37 L128.25,52.28 L128.78,52.19 L129.31,52.09 L129.84,52.00 L130.37,51.91 L130.90,51.82 L131.42,51.73 L131.95,51.64 L132.48,51.55 L133.01,51.46 L133.54,51.38 L134.07,51.29 L134.60,51.20 L135.12,51.11 L135.65,51.03 L136.18,50.94 L136.71,50.85 L137.24,50.77 L137.77,50.68 L138.30,50.60 L138.83,50.51 L139.35,50.43 L139.88,50.35 L140.41,50.26 L140.94,50.18 L141.47,50.10 L142.00,50.02 L142.53,49.93 L143.06,49.85 L143.58,49.77 L144.11,49.69 L144.64,49.61 L145.17,49.53 L145.70,49.45 L146.23,49.37 L146.76,49.29 L147.28,49.21 L147.81,49.13 L148.34,49.05 L148.87,48.98 L149.40,48.90 L149.93,48.82 L150.46,48.74 L150.99,48.67 L151.51,48.59 L152.04,48.51 L152.57,48.44 L153.10,48.36 L153.63,48.29 L154.16,48.21 L154.69,48.14 L155.21,48.06 L155.74,47.99 L156.27,47.92 L156.80,47.84 L157.33,47.77 L157.86,47.69 L158.39,47.62 L158.92,47.55 L159.44,47.48 L159.97,47.40 L160.50,47.33 L161.03,47.26 L161.56,47.19 L162.09,47.12 L162.62,47.05 L163.15,46.98 L163.67,46.91 L164.20,46.84 L164.73,46.77 L165.26,46.70 L165.79,46.63 L166.32,46.56 L166.85,46.49 L167.37,46.42 L167.90,46.35 L168.43,46.28 L168.96,46.21 L169.49,46.15 L170.02,46.08 L170.55,46.01 L171.08,45.94 L171.60,45.88 L172.13,45.81 L172.66,45.74 L173.19,45.68 L173.72,45.61 L174.25,45.54 L174.78,45.48 L175.30,45.41 L175.83,45.35 L176.36,45.28 L176.89,45.22 L177.42,45.15 L177.95,45.09 L178.48,45.02 L179.01,44.96 L179.53,44.89 L180.06,44.83 L180.59,44.76 L181.12,44.70 L181.65,44.64 L182.18,44.57 L182.71,44.51 L183.24,44.45 L183.76,44.39 L184.29,44.32 L184.82,44.26 L185.35,44.20 L185.88,44.14 L186.41,44.07 L186.94,44.01 L187.46,43.95 L187.99,43.89 L188.52,43.83 L189.05,43.77 L189.58,43.70 L190.11,43.64 L190.64,43.58 L191.17,43.52 L191.69,43.46 L192.22,43.40 L192.75,43.34 L193.28,43.28 L193.81,43.22 L194.34,43.16 L194.87,43.10 L195.39,43.04 L195.92,42.98 L196.45,42.92 L196.98,42.87 L197.51,42.81 L198.04,42.75 L198.57,42.69 L199.10,42.63 L199.62,42.57 L200.15,42.51 L200.68,42.46 L201.21,42.40 L201.74,42.34 L202.27,42.28 L202.80,42.22 L203.33,42.17 L203.85,42.11 L204.38,42.05 L204.91,42.00 L205.44,41.94 L205.97,41.88 L206.50,41.83 L207.03,41.77 L207.55,41.71 L208.08,41.66 L208.61,41.60 L209.14,41.54 L209.67,41.49 L210.20,41.43 L210.73,41.38 L211.26,41.32 L211.78,41.26 L212.31,41.21 L212.84,41.15 L213.37,41.10 L213.90,41.04 L214.43,40.99 L214.96,40.93 L215.49,40.88 L216.01,40.82 L216.54,40.77 L217.07,40.71 L217.60,40.66 L218.13,40.60 L218.66,40.55 L219.19,40.49 L219.71,40.44 L220.24,40.39 L220.77,40.33 L221.30,40.28 L221.83,40.22 L222.36,40.17 L222.89,40.12 L223.42,40.06 L223.94,40.01 L224.47,39.96 L225.00,39.90 L225.53,39.85 L226.06,39.80 L226.59,39.74 L227.12,39.69 L227.64,39.64 L228.17,39.58 L228.70,39.53 L229.23,39.48 L229.76,39.43 L230.29,39.37 L230.82,39.32 L231.35,39.27 L231.87,39.22 L232.40,39.16 L232.93,39.11 L233.46,39.06 L233.99,39.01 L234.52,38.96 L235.05,38.90 L235.58,38.85 L236.10,38.80 L236.63,38.75 L237.16,38.70 L237.69,38.64 L238.22,38.59 L238.75,38.54 L239.28,38.49 L239.80,38.44 L240.33,38.39 L240.86,38.34 L241.39,38.28 L241.92,38.23 L242.45,38.18 L242.98,38.13 L243.51,38.08 L244.03,38.03 L244.56,37.98 L245.09,37.93 L245.62,37.88 L246.15,37.83 L246.68,37.77 L247.21,37.72 L247.73,37.67 L248.26,37.62 L248.79,37.57 L249.32,37.52 L249.85,37.47 L250.38,37.42 L250.91,37.37 L251.44,37.32 L251.96,37.27 L252.49,37.22 L253.02,37.17 L253.55,37.12 L254.08,37.07 L254.61,37.02 L255.14,36.97 L255.67,36.92 L256.19,36.87 L256.72,36.82 L257.25,36.77 L257.78,36.72 L258.31,36.67 L258.84,36.62 L259.37,36.57 L259.89,36.52 L260.42,36.47 L260.95,36.42 L261.48,36.37 L262.01,36.32 L262.54,36.27 L263.07,36.22 L263.60,36.17 L264.12,36.12 L264.65,36.07 L265.18,36.02 L265.71,35.97 L266.24,35.92 L266.77,35.87 L267.30,35.82 L267.82,35.77 L268.35,35.72 L268.88,35.67 L269.41,35.62 L269.94,35.57 L270.47,35.52 L271.00,35.47 L271.53,35.42 L272.05,35.37 L272.58,35.32 L273.11,35.27 L273.64,35.22 L274.17,35.17 L274.70,35.12 L275.23,35.07 L275.76,35.02 L276.28,34.97 L276.81,34.92 L277.34,34.87 L277.87,34.82 L278.40,34.77 L278.93,34.72 L279.46,34.67 L279.98,34.62 L280.51,34.57 L281.04,34.52 L281.57,34.47 L282.10,34.42 L282.63,34.37 L283.16,34.32 L283.69,34.27 L284.21,34.22 L284.74,34.17 L285.27,34.12 L285.80,34.07 L286.33,34.02 L286.86,33.97 L287.39,33.92 L287.92,33.87 L288.44,33.82 L288.97,33.77 L289.50,33.72 L290.03,33.67 L290.56,33.62 L291.09,33.57 L291.62,33.52 L292.14,33.47 L292.67,33.42 L293.20,33.37 L293.73,33.32 L294.26,33.27 L294.79,33.21 L295.32,33.16 L295.85,33.11 L296.37,33.06 L296.90,33.01 L297.43,32.96 L297.96,32.91 L298.49,32.86 L299.02,32.81 L299.55,32.76 L300.07,32.71 L300.60,32.65 L301.13,32.60 L301.66,32.55 L302.19,32.50 L302.72,32.45 L303.25,32.40 L303.78,32.35 L304.30,32.29 L304.83,32.24 L305.36,32.19 L305.89,32.14 L306.42,32.09 L306.95,32.04 L307.48,31.98 L308.01,31.93 L308.53,31.88 L309.06,31.83 L309.59,31.77 L310.12,31.72 L310.65,31.67 L311.18,31.62 L311.71,31.56 L312.23,31.51 L312.76,31.46 L313.29,31.41 L313.82,31.35 L314.35,31.30 L314.88,31.25 L315.41,31.19 L315.94,31.14 L316.46,31.09 L316.99,31.03 L317.52,30.98 L318.05,30.93 L318.58,30.87 L319.11,30.82 L319.64,30.77 L320.16,30.71 L320.69,30.66 L321.22,30.60 L321.75,30.55 L322.28,30.49 L322.81,30.44 L323.34,30.39 L323.87,30.33 L324.39,30.28 L324.92,30.22 L325.45,30.17 L325.98,30.11 L326.51,30.06 L327.04,30.00 L327.57,29.94 L328.10,29.89 L328.62,29.83 L329.15,29.78 L329.68,29.72 L330.21,29.67 L330.74,29.61 L331.27,29.55 L331.80,29.50 L332.32,29.44 L332.85,29.38 L333.38,29.33 L333.91,29.27 L334.44,29.21 L334.97,29.15 L335.50,29.10 L336.03,29.04 L336.55,28.98 L337.08,28.92 L337.61,28.87 L338.14,28.81 L338.67,28.75 L339.20,28.69 L339.73,28.63 L340.25,28.57 L340.78,28.52 L341.31,28.46 L341.84,28.40 L342.37,28.34 L342.90,28.28 L343.43,28.22 L343.96,28.16 L344.48,28.10 L345.01,28.04 L345.54,27.98 L346.07,27.92 L346.60,27.86 L347.13,27.80 L347.66,27.74 L348.19,27.67 L348.71,27.61 L349.24,27.55 L349.77,27.49 L350.30,27.43" stroke="#f0f" stroke-dasharray="5.5 1.9" stroke-dashoffset="0"/>
<path d="M29.43,198.41 L29.43,197.64 L29.43,196.87 L29.43,196.10 L29.43,195.33 L29.44,194.56 L29.44,193.79 L29.44,193.02 L29.44,192.25 L29.44,191.48 L29.45,190.70 L29.45,189.93 L29.45,189.16 L29.45,188.39 L29.45,187.62 L29.46,186.85 L29.46,186.08 L29.46,185.31 L29.47,184.54 L29.47,183.77 L29.47,183.00 L29.48,182.23 L29.48,181.46 L29.48,180.69 L29.49,179.92 L29.49,179.15 L29.49,178.38 L29.50,177.61 L29.50,176.84 L29.51,176.06 L29.51,175.29 L29.52,174.52 L29.53,173.75 L29.53,172.98 L29.54,172.21 L29.54,171.44 L29.55,170.67 L29.56,169.90 L29.57,169.13 L29.57,168.36 L29.58,167.59 L29.59,166.82 L29.60,166.05 L29.61,165.28 L29.62,164.51 L29.63,163.74 L29.64,162.97 L29.65,162.20 L29.66,161.42 L29.67,160.65 L29.69,159.88 L29.70,159.11 L29.72,158.34 L29.73,157.57 L29.75,156.80 L29.76,156.03 L29.78,155.26 L29.80,154.49 L29.82,153.72 L29.84,152.95 L29.86,152.18 L29.88,151.41 L29.90,150.64 L29.93,149.87 L29.95,149.10 L29.98,148.33 L30.00,147.56 L30.03,146.78 L30.06,146.01 L30.09,145.24 L30.13,144.47 L30.16,143.70 L30.20,142.93 L30.23,142.16 L30.27,141.39 L30.32,140.62 L30.36,139.85 L30.40,139.08 L30.45,138.31 L30.50,137.54 L30.55,136.77 L30.61,136.00 L30.67,135.23 L30.73,134.46 L30.79,133.69 L30.85,132.92 L30.92,132.15 L31.00,131.37 L31.07,130.60 L31.15,129.83 L31.23,129.06 L31.32,128.29 L31.41,127.52 L31.51,126.75 L31.61,125.98 L31.71,125.21 L31.82,124.44 L31.93,123.67 L32.05,122.90 L32.18,122.13 L32.31,121.36 L32.45,120.59 L32.59,119.82 L32.75,119.05 L32.90,118.28 L33.07,117.50 L33.24,116.73 L33.43,115.96 L33.62,115.19 L34.15,113.23 L34.67,111.47 L35.20,109.88 L35.73,108.43 L36.26,107.09 L36.79,105.85 L37.32,104.70 L37.85,103.63 L38.38,102.62 L38.90,101.66 L39.43,100.76 L39.96,99.91 L40.49,99.09 L41.02,98.32 L41.55,97.58 L42.08,96.87 L42.60,96.19 L43.13,95.53 L43.66,94.90 L44.19,94.30 L44.72,93.71 L45.25,93.14 L45.78,92.60 L46.31,92.07 L46.83,91.56 L47.36,91.06 L47.89,90.57 L48.42,90.10 L48.95,89.65 L49.48,89.20 L50.01,88.77 L50.53,88.35 L51.06,87.93 L51.59,87.53 L52.12,87.14 L52.65,86.76 L53.18,86.38 L53.71,86.01 L54.24,85.65 L54.76,85.30 L55.29,84.96 L55.82,84.62 L56.35,84.29 L56.88,83.97 L57.41,83.65 L57.94,83.34 L58.47,83.03 L58.99,82.73 L59.52,82.43 L60.05,82.14 L60.58,81.86 L61.11,81.57 L61.64,81.30 L62.17,81.03 L62.69,80.76 L63.22,80.50 L63.75,80.24 L64.28,79.98 L64.81,79.73 L65.34,79.48 L65.87,79.24 L66.40,79.00 L66.92,78.76 L67.45,78.52 L67.98,78.29 L68.51,78.06 L69.04,77.84 L69.57,77.62 L70.10,77.40 L70.63,77.18 L71.15,76.97 L71.68,76.76 L72.21,76.55 L72.74,76.34 L73.27,76.14 L73.80,75.94 L74.33,75.74 L74.85,75.54 L75.38,75.35 L75.91,75.16 L76.44,74.97 L76.97,74.78 L77.50,74.60 L78.03,74.41 L78.56,74.23 L79.08,74.05 L79.61,73.87 L80.14,73.70 L80.67,73.52 L81.20,73.35 L81.73,73.18 L82.26,73.01 L82.78,72.84 L83.31,72.68 L83.84,72.51 L84.37,72.35 L84.90,72.19 L85.43,72.03 L85.96,71.87 L86.49,71.71 L87.01,71.56 L87.54,71.40 L88.07,71.25 L88.60,71.10 L89.13,70.95 L89.66,70.80 L90.19,70.65 L90.72,70.51 L91.24,70.36 L91.77,70.22 L92.30,70.08 L92.83,69.93 L93.36,69.79 L93.89,69.65 L94.42,69.52 L94.94,69.38 L95.47,69.24 L96.00,69.11 L96.53,68.97 L97.06,68.84 L97.59,68.71 L98.12,68.58 L98.65,68.45 L99.17,68.32 L99.70,68.19 L100.23,68.06 L100.76,67.94 L101.29,67.81 L101.82,67.69 L102.35,67.56 L102.87,67.44 L103.40,67.32 L103.93,67.20 L104.46,67.08 L104.99,66.96 L105.52,66.84 L106.05,66.72 L106.58,66.61 L107.10,66.49 L107.63,66.37 L108.16,66.26 L108.69,66.14 L109.22,66.03 L109.75,65.92 L110.28,65.81 L110.81,65.70 L111.33,65.58 L111.86,65.47 L112.39,65.37 L112.92,65.26 L113.45,65.15 L113.98,65.04 L114.51,64.94 L115.03,64.83 L115.56,64.72 L116.09,64.62 L116.62,64.51 L117.15,64.41 L117.68,64.31 L118.21,64.21 L118.74,64.10 L119.26,64.00 L119.79,63.90 L120.32,63.80 L120.85,63.70 L121.38,63.60 L121.91,63.50 L122.44,63.41 L122.96,63.31 L123.49,63.21 L124.02,63.11 L124.55,63.02 L125.08,62.92 L125.61,62.83 L126.14,62.73 L126.67,62.64 L127.19,62.54 L127.72,62.45 L128.25,62.36 L128.78,62.27 L129.31,62.17 L129.84,62.08 L130.37,61.99 L130.90,61.90 L131.42,61.81 L131.95,61.72 L132.48,61.63 L133.01,61.54 L133.54,61.46 L134.07,61.37 L134.60,61.28 L135.12,61.19 L135.65,61.11 L136.18,61.02 L136.71,60.93 L137.24,60.85 L137.77,60.76 L138.30,60.68 L138.83,60.59 L139.35,60.51 L139.88,60.43 L140.41,60.34 L140.94,60.26 L141.47,60.18 L142.00,60.09 L142.53,60.01 L143.06,59.93 L143.58,59.85 L144.11,59.77 L144.64,59.69 L145.17,59.61 L145.70,59.53 L146.23,59.45 L146.76,59.37 L147.28,59.29 L147.81,59.21 L148.34,59.13 L148.87,59.05 L149.40,58.98 L149.93,58.90 L150.46,58.82 L150.99,58.74 L151.51,58.67 L152.04,58.59 L152.57,58.51 L153.10,58.44 L153.63,58.36 L154.16,58.29 L154.69,58.21 L155.21,58.14 L155.74,58.06 L156.27,57.99 L156.80,57.91 L157.33,57.84 L157.86,57.77 L158.39,57.69 L158.92,57.62 L159.44,57.55 L159.97,57.48 L160.50,57.40 L161.03,57.33 L161.56,57.26 L162.09,57.19 L162.62,57.12 L163.15,57.05 L163.67,56.98 L164.20,56.91 L164.73,56.84 L165.26,56.77 L165.79,56.70 L166.32,56.63 L166.85,56.56 L167.37,56.49 L167.90,56.42 L168.43,56.35 L168.96,56.28 L169.49,56.21 L170.02,56.14 L170.55,56.08 L171.08,56.01 L171.60,55.94 L172.13,55.87 L172.66,55.81 L173.19,55.74 L173.72,55.67 L174.25,55.61 L174.78,55.54 L175.30,55.47 L175.83,55.41 L176.36,55.34 L176.89,55.28 L177.42,55.21 L177.95,55.15 L178.48,55.08 L179.01,55.02 L179.53,54.95 L180.06,54.89 L180.59,54.82 L181.12,54.76 L181.65,54.69 L182.18,54.63 L182.71,54.57 L183.24,54.50 L183.76,54.44 L184.29,54.38 L184.82,54.31 L185.35,54.25 L185.88,54.19 L186.41,54.12 L186.94,54.06 L187.46,54.00 L187.99,53.94 L188.52,53.88 L189.05,53.81 L189.58,53.75 L190.11,53.69 L190.64,53.63 L191.17,53.57 L191.69,53.51 L192.22,53.44 L192.75,53.38 L193.28,53.32 L193.81,53.26 L194.34,53.20 L194.87,53.14 L195.39,53.08 L195.92,53.02 L196.45,52.96 L196.98,52.90 L197.51,52.84 L198.04,52.78 L198.57,52.72 L199.10,52.66 L199.62,52.60 L200.15,52.54 L200.68,52.48 L201.21,52.43 L201.74,52.37 L202.27,52.31 L202.80,52.25 L203.33,52.19 L203.85,52.13 L204.38,52.07 L204.91,52.01 L205.44,51.96 L205.97,51.90 L206.50,51.84 L207.03,51.78 L207.55,51.72 L208.08,51.67 L208.61,51.61 L209.14,51.55 L209.67,51.49 L210.20,51.44 L210.73,51.38 L211.26,51.32 L211.78,51.27 L212.31,51.21 L212.84,51.15 L213.37,51.09 L213.90,51.04 L214.43,50.98 L214.96,50.92 L215.49,50.87 L216.01,50.81 L216.54,50.75 L217.07,50.70 L217.60,50.64 L218.13,50.59 L218.66,50.53 L219.19,50.47 L219.71,50.42 L220.24,50.36 L220.77,50.31 L221.30,50.25 L221.83,50.19 L222.36,50.14 L222.89,50.08 L223.42,50.03 L223.94,49.97 L224.47,49.92 L225.00,49.86 L225.53,49.80 L226.06,49.75 L226.59,49.69 L227.12,49.64 L227.64,49.58 L228.17,49.53 L228.70,49.47 L229.23,49.42 L229.76,49.36 L230.29,49.31 L230.82,49.25 L231.35,49.20 L231.87,49.14 L232.40,49.09 L232.93,49.03 L233.46,48.98 L233.99,48.92 L234.52,48.87 L235.05,48.81 L235.58,48.76 L236.10,48.70 L236.63,48.65 L237.16,48.59 L237.69,48.54 L238.22,48.48 L238.75,48.43 L239.28,48.37 L239.80,48.32 L240.33,48.27 L240.86,48.21 L241.39,48.16 L241.92,48.10 L242.45,48.05 L242.98,47.99 L243.51,47.94 L244.03,47.88 L244.56,47.83 L245.09,47.77 L245.62,47.72 L246.15,47.66 L246.68,47.61 L247.21,47.56 L247.73,47.50 L248.26,47.45 L248.79,47.39 L249.32,47.34 L249.85,47.28 L250.38,47.23 L250.91,47.17 L251.44,47.12 L251.96,47.06 L252.49,47.01 L253.02,46.95 L253.55,46.90 L254.08,46.84 L254.61,46.79 L255.14,46.73 L255.67,46.68 L256.19,46.62 L256.72,46.57 L257.25,46.51 L257.78,46.46 L258.31,46.40 L258.84,46.35 L259.37,46.29 L259.89,46.24 L260.42,46.18 L260.95,46.13 L261.48,46.07 L262.01,46.02 L262.54,45.96 L263.07,45.91 L263.60,45.85 L264.12,45.79 L264.65,45.74 L265.18,45.68 L265.71,45.63 L266.24,45.57 L266.77,45.51 L267.30,45.46 L267.82,45.40 L268.35,45.35 L268.88,45.29 L269.41,45.23 L269.94,45.18 L270.47,45.12 L271.00,45.06 L271.53,45.01 L272.05,44.95 L272.58,44.89 L273.11,44.84 L273.64,44.78 L274.17,44.72 L274.70,44.67 L275.23,44.61 L275.76,44.55 L276.28,44.49 L276.81,44.44 L277.34,44.38 L277.87,44.32 L278.40,44.26 L278.93,44.21 L279.46,44.15 L279.98,44.09 L280.51,44.03 L281.04,43.97 L281.57,43.92 L282.10,43.86 L282.63,43.80 L283.16,43.74 L283.69,43.68 L284.21,43.62 L284.74,43.56 L285.27,43.50 L285.80,43.44 L286.33,43.38 L286.86,43.32 L287.39,43.26 L287.92,43.20 L288.44,43.14 L288.97,43.08 L289.50,43.02 L290.03,42.96 L290.56,42.90 L291.09,42.84 L291.62,42.78 L292.14,42.72 L292.67,42.66 L293.20,42.60 L293.73,42.54 L294.26,42.47 L294.79,42.41 L295.32,42.35 L295.85,42.29 L296.37,42.23 L296.90,42.16 L297.43,42.10 L297.96,42.04 L298.49,41.97 L299.02,41.91 L299.55,41.85 L300.07,41.78 L300.60,41.72 L301.13,41.66 L301.66,41.59 L302.19,41.53 L302.72,41.46 L303.25,41.40 L303.78,41.33 L304.30,41.27 L304.83,41.20 L305.36,41.14 L305.89,41.07 L306.42,41.01 L306.95,40.94 L307.48,40.87 L308.01,40.81 L308.53,40.74 L309.06,40.67 L309.59,40.60 L310.12,40.54 L310.65,40.47 L311.18,40.40 L311.71,40.33 L312.23,40.26 L312.76,40.20 L313.29,40.13 L313.82,40.06 L314.35,39.99 L314.88,39.92 L315.41,39.85 L315.94,39.78 L316.46,39.71 L316.99,39.64 L317.52,39.57 L318.05,39.49 L318.58,39.42 L319.11,39.35 L319.64,39.28 L320.16,39.21 L320.69,39.13 L321.22,39.06 L321.75,38.99 L322.28,38.91 L322.81,38.84 L323.34,38.77 L323.87,38.69 L324.39,38.62 L324.92,38.54 L325.45,38.47 L325.98,38.39 L326.51,38.32 L327.04,38.24 L327.57,38.16 L328.10,38.09 L328.62,38.01 L329.15,37.93 L329.68,37.85 L330.21,37.78 L330.74,37.70 L331.27,37.62 L331.80,37.54 L332.32,37.46 L332.85,37.38 L333.38,37.30 L333.91,37.22 L334.44,37.14 L334.97,37.06 L335.50,36.97 L336.03,36.89 L336.55,36.81 L337.08,36.73 L337.61,36.64 L338.14,36.56 L338.67,36.48 L339.20,36.39 L339.73,36.31 L340.25,36.22 L340.78,36.14 L341.31,36.05 L341.84,35.96 L342.37,35.88 L342.90,35.79 L343.43,35.70 L343.96,35.62 L344.48,35.53 L345.01,35.44 L345.54,35.35 L346.07,35.26 L346.60,35.17 L347.13,35.08 L347.66,34.99 L348.19,34.90 L348.71,34.80 L349.24,34.71 L349.77,34.62 L350.30,34.53" stroke="#0ff" stroke-dasharray="5.5 1.9" stroke-dashoffset="0"/>
</g>
<path d="M33.11,215.00 L33.62,206.39 L33.65,205.96 L33.67,205.53 L33.70,205.11 L33.73,204.68 L33.77,204.25 L33.80,203.83 L33.84,203.40 L33.88,202.97 L33.92,202.55 L33.96,202.12 L34.00,201.70 L34.04,201.27 L34.09,200.84 L34.14,200.42 L34.19,199.99 L34.24,199.57 L34.29,199.14 L34.35,198.72 L34.41,198.30 L34.47,197.87 L34.53,197.45 L34.59,197.02 L34.65,196.60 L34.72,196.18 L34.78,195.76 L34.85,195.33 L34.92,194.91 L35.00,194.49 L35.07,194.07 L35.14,193.65 L35.22,193.23 L35.30,192.80 L35.38,192.38 L35.46,191.96 L35.55,191.54 L35.63,191.12 L35.72,190.71 L35.81,190.29 L35.90,189.87 L35.99,189.45 L36.08,189.03 L36.18,188.62 L36.27,188.20 L36.37,187.78 L36.47,187.37 L36.57,186.95 L36.68,186.53 L36.78,186.12 L36.89,185.71 L37.00,185.29 L37.11,184.88 L37.22,184.46 L37.33,184.05 L37.44,183.64 L37.56,183.23 L37.68,182.82 L37.80,182.40 L37.92,181.99 L38.04,181.58 L38.16,181.17 L38.29,180.76 L38.41,180.36 L38.54,179.95 L38.67,179.54 L38.80,179.13 L38.94,178.72 L39.07,178.32 L39.21,177.91 L39.34,177.51 L39.48,177.10 L39.62,176.70 L39.77,176.29 L39.91,175.89 L40.05,175.49 L40.20,175.09 L40.35,174.68 L40.50,174.28 L40.65,173.88 L40.80,173.48 L40.96,173.08 L41.11,172.69 L41.27,172.29 L41.43,171.89 L41.59,171.49 L41.75,171.10 L41.91,170.70 L42.08,170.31 L42.24,169.91 L42.41,169.52 L42.58,169.12 L42.75,168.73 L42.92,168.34 L43.09,167.95 L43.27,167.56 L43.44,167.17 L43.62,166.78 L43.80,166.39 L43.98,166.00 L44.16,165.61 L44.34,165.22 L44.53,164.84 L44.71,164.45 L44.90,164.07 L45.09,163.68 L45.28,163.30 L45.47,162.92 L45.66,162.54 L45.86,162.15 L46.05,161.77 L46.25,161.39 L46.45,161.01 L46.65,160.64 L46.85,160.26 L47.05,159.88 L47.26,159.51 L47.46,159.13 L47.67,158.76 L47.88,158.38 L48.09,158.01 L48.30,157.64 L48.51,157.26 L48.72,156.89 L48.94,156.52 L49.16,156.15 L49.37,155.79 L49.59,155.42 L49.81,155.05 L50.04,154.69 L50.26,154.32 L50.48,153.96 L50.71,153.59 L50.94,153.23 L51.17,152.87 L51.40,152.51 L51.63,152.15 L51.86,151.79 L52.09,151.43 L52.33,151.07 L52.57,150.71 L52.80,150.36 L53.04,150.00 L53.28,149.65 L53.52,149.30 L53.77,148.94 L54.01,148.59 L54.26,148.24 L54.50,147.89 L54.75,147.54 L55.00,147.20 L55.25,146.86 L55.50,146.51 L55.76,146.17 L56.01,145.84 L56.27,145.50 L56.53,145.16 L56.78,144.82 L57.04,144.49 L57.30,144.16 L57.57,143.82 L57.83,143.49 L58.09,143.16 L58.36,142.83 L58.63,142.50 L58.90,142.17 L59.16,141.84 L59.44,141.52 L59.71,141.19 L59.98,140.87 L60.25,140.55 L60.53,140.22 L60.81,139.90 L61.08,139.58 L61.36,139.26 L61.64,138.95 L61.93,138.63 L62.21,138.31 L62.49,138.00 L62.78,137.68 L63.06,137.37 L63.35,137.06 L63.64,136.75 L63.93,136.44 L64.22,136.13 L64.51,135.83 L64.80,135.52 L65.10,135.21 L65.39,134.91 L65.69,134.61 L65.99,134.31 L66.29,134.00 L66.58,133.71 L66.89,133.41 L67.19,133.11 L67.49,132.81 L67.79,132.52 L68.10,132.22 L68.41,131.93 L68.71,131.64 L69.02,131.35 L69.33,131.06 L69.64,130.77 L69.95,130.49 L70.27,130.21 L70.58,129.93 L70.90,129.66 L71.21,129.39 L71.53,129.11 L71.85,128.84 L72.17,128.57 L72.49,128.31 L72.81,128.04 L73.13,127.77 L73.45,127.51 L73.78,127.25 L74.10,126.98 L74.43,126.72 L74.76,126.46 L75.09,126.21 L75.41,125.95 L75.75,125.69 L76.08,125.44 L76.41,125.19 L76.74,124.94 L77.08,124.69 L77.41,124.44 L77.75,124.19 L78.09,123.94 L78.42,123.68 L78.76,123.42 L79.10,123.16 L79.44,122.91 L79.79,122.65 L80.13,122.40 L80.47,122.15 L80.82,121.90 L81.16,121.65 L81.51,121.40 L81.86,121.15 L82.20,120.91 L82.55,120.66 L82.90,120.42 L83.25,120.18 L83.60,119.94 L83.96,119.70 L84.31,119.46 L84.66,119.22 L85.02,118.98 L85.37,118.75 L85.73,118.51 L86.09,118.28 L86.44,118.05 L86.80,117.82 L87.16,117.59 L87.52,117.36 L87.88,117.13 L88.24,116.91 L88.61,116.68 L88.97,116.46 L89.33,116.23 L89.70,116.01 L90.06,115.79 L90.43,115.57 L90.79,115.35 L91.16,115.14 L91.53,114.92 L91.89,114.71 L92.26,114.49 L92.63,114.28 L93.00,114.07 L93.37,113.86 L93.74,113.65 L94.11,113.44 L94.49,113.23 L94.86,113.02 L95.23,112.82 L95.61,112.61 L95.98,112.41 L96.36,112.21 L96.73,112.01 L97.11,111.80 L97.49,111.61 L97.86,111.41 L98.24,111.21 L98.62,111.01 L99.00,110.82 L99.38,110.62 L99.76,110.43 L100.14,110.24 L100.52,110.04 L100.90,109.85 L101.28,109.66 L101.66,109.47 L102.05,109.28 L102.43,109.10 L102.81,108.91 L103.20,108.72 L103.58,108.54 L103.97,108.36 L104.35,108.17 L104.74,107.99 L105.12,107.81 L105.51,107.63 L105.90,107.45 L106.28,107.27 L106.67,107.09 L107.06,106.92 L107.45,106.74 L107.84,106.57 L108.23,106.39 L108.62,106.22 L109.01,106.05 L109.40,105.87 L109.79,105.70 L110.18,105.53 L110.57,105.36 L110.96,105.19 L111.36,105.03 L111.75,104.86 L112.14,104.69 L112.53,104.51 L112.93,104.34 L113.32,104.16 L113.71,103.99 L114.11,103.82 L114.50,103.65 L114.90,103.47 L115.29,103.30 L115.69,103.13 L116.09,102.96 L116.48,102.80 L116.88,102.63 L117.27,102.46 L117.67,102.29 L118.07,102.13 L118.47,101.96 L118.86,101.80 L119.26,101.63 L119.66,101.47 L120.06,101.31 L120.46,101.15 L120.86,100.99 L121.26,100.82 L121.66,100.66 L122.05,100.50 L122.45,100.35 L122.85,100.19 L123.26,100.03 L123.66,99.87 L124.06,99.71 L124.46,99.56 L124.86,99.40 L125.26,99.25 L125.66,99.09 L126.06,98.94 L126.46,98.79 L126.87,98.64 L127.27,98.48 L127.67,98.33 L128.07,98.18 L128.48,98.03 L128.88,97.88 L129.28,97.73 L129.69,97.58 L130.09,97.43 L130.49,97.28 L130.90,97.14 L131.30,96.99 L131.71,96.84 L132.11,96.70 L132.52,96.55 L132.92,96.40 L133.32,96.26 L133.73,96.11 L134.13,95.97 L134.54,95.83 L134.94,95.68 L135.35,95.54 L135.76,95.40 L136.16,95.25 L136.57,95.11 L136.97,94.97 L137.38,94.83 L137.79,94.69 L138.19,94.55 L138.60,94.41 L139.00,94.27 L139.41,94.13 L139.82,93.99 L140.22,93.85 L140.63,93.72 L141.04,93.59 L141.45,93.46 L141.85,93.33 L142.26,93.20 L142.67,93.07 L143.08,92.94 L143.48,92.81 L143.89,92.68 L144.30,92.55 L144.71,92.42 L145.11,92.29 L145.52,92.17 L145.93,92.04 L146.34,91.91 L146.75,91.79 L147.16,91.66 L147.56,91.53 L147.97,91.41 L148.38,91.28 L148.79,91.16 L149.20,91.03 L149.61,90.91 L150.02,90.78 L150.43,90.66 L150.84,90.53 L151.25,90.41 L151.66,90.29 L152.06,90.16 L152.47,90.04 L152.88,89.92 L153.29,89.80 L153.70,89.68 L154.11,89.55 L154.52,89.43 L154.93,89.31 L155.34,89.19 L155.76,89.07 L156.17,88.95 L156.58,88.83 L156.99,88.71 L157.40,88.59 L157.81,88.47 L158.22,88.36 L158.63,88.24 L159.04,88.12 L159.45,88.00 L159.86,87.88 L160.27,87.76 L160.69,87.64 L161.10,87.52 L161.51,87.40 L161.92,87.28 L162.33,87.16 L162.74,87.04 L163.16,86.92 L163.57,86.81 L163.98,86.69 L164.39,86.57 L164.80,86.45 L165.22,86.33 L165.63,86.21 L166.04,86.10 L166.45,85.98 L166.87,85.86 L167.28,85.75 L167.69,85.63 L168.10,85.51 L168.52,85.40 L168.93,85.28 L169.34,85.17 L169.76,85.05 L170.17,84.94 L170.58,84.82 L171.00,84.71 L171.41,84.60 L171.82,84.48 L172.24,84.37 L172.65,84.26 L173.06,84.14 L173.48,84.03 L173.89,83.92 L174.30,83.81 L174.72,83.70 L175.13,83.58 L175.55,83.47 L175.96,83.36 L176.37,83.25 L176.79,83.14 L177.20,83.03 L177.62,82.92 L178.03,82.81 L178.45,82.70 L178.86,82.59 L179.28,82.48 L179.69,82.37 L180.11,82.27 L180.52,82.17 L180.94,82.06 L181.35,81.96 L181.77,81.86 L182.18,81.76 L182.60,81.66 L183.01,81.56 L183.43,81.46 L183.84,81.36 L184.26,81.26 L184.67,81.16 L185.09,81.06 L185.50,80.96 L185.92,80.86 L186.33,80.76 L186.75,80.67 L187.17,80.57 L187.58,80.47 L188.00,80.37 L188.41,80.28 L188.83,80.18 L189.25,80.08 L189.66,79.99 L190.08,79.89 L190.49,79.79 L190.91,79.70 L191.33,79.60 L191.74,79.51 L192.16,79.41 L192.58,79.32 L192.99,79.22 L193.41,79.13 L193.83,79.03 L194.24,78.94 L194.66,78.85 L195.08,78.75 L195.49,78.66 L195.91,78.57 L196.33,78.47 L196.75,78.38 L197.16,78.29 L197.58,78.20 L198.00,78.10 L198.41,78.01 L198.83,77.92 L199.25,77.83 L199.67,77.74 L200.08,77.65 L200.50,77.55 L200.92,77.46 L201.34,77.36 L201.75,77.27 L202.17,77.18 L202.59,77.08 L203.01,76.99 L203.43,76.90 L203.84,76.81 L204.26,76.71 L204.68,76.62 L205.10,76.53 L205.52,76.44 L205.93,76.35 L206.35,76.26 L206.77,76.16 L207.19,76.07 L207.61,75.98 L208.03,75.89 L208.44,75.80 L208.86,75.71 L209.28,75.62 L209.70,75.53 L210.12,75.44 L210.54,75.35 L210.96,75.27 L211.37,75.18 L211.79,75.09 L212.21,75.00 L212.63,74.91 L213.05,74.82 L213.47,74.74 L213.89,74.65 L214.31,74.56 L214.73,74.47 L215.14,74.39 L215.56,74.30 L215.98,74.21 L216.40,74.13 L216.82,74.04 L217.24,73.96 L217.66,73.87 L218.08,73.78 L218.50,73.70 L218.92,73.61 L219.34,73.53 L219.76,73.44 L220.18,73.36 L220.60,73.28 L221.02,73.19 L221.44,73.11 L221.86,73.02 L222.28,72.94 L222.70,72.86 L223.12,72.77 L223.54,72.69 L223.96,72.61 L224.38,72.52 L224.80,72.44 L225.22,72.36 L225.64,72.28 L226.06,72.20 L226.48,72.11 L226.90,72.03 L227.32,71.95 L227.74,71.87 L228.16,71.79 L228.58,71.71 L229.00,71.63 L229.42,71.55 L229.84,71.47 L230.26,71.39 L230.68,71.31 L231.10,71.23 L231.52,71.15 L231.94,71.07 L232.36,70.99 L232.78,70.91 L233.20,70.83 L233.62,70.75 L234.04,70.67 L234.47,70.59 L234.89,70.52 L235.31,70.44 L235.73,70.36 L236.15,70.28 L236.57,70.20 L236.99,70.12 L237.41,70.04 L237.83,69.96 L238.25,69.88 L238.67,69.80 L239.10,69.72 L239.52,69.64 L239.94,69.57 L240.36,69.49 L240.78,69.41 L241.20,69.33 L241.62,69.25 L242.04,69.17 L242.47,69.10 L242.89,69.02 L243.31,68.94 L243.73,68.86 L244.15,68.78 L244.57,68.71 L244.99,68.63 L245.42,68.55 L245.84,68.48 L246.26,68.40 L246.68,68.32 L247.10,68.25 L247.52,68.17 L247.95,68.10 L248.37,68.02 L248.79,67.94 L249.21,67.87 L249.63,67.79 L250.06,67.72 L250.48,67.64 L250.90,67.57 L251.32,67.49 L251.74,67.42 L252.16,67.34 L252.59,67.27 L253.01,67.20 L253.43,67.12 L253.85,67.05 L254.27,66.97 L254.70,66.90 L255.12,66.83 L255.54,66.75 L255.96,66.68 L256.39,66.61 L256.81,66.54 L257.23,66.47 L257.65,66.39 L258.07,66.32 L258.50,66.25 L258.92,66.18 L259.34,66.11 L259.76,66.04 L260.19,65.97 L260.61,65.89 L261.03,65.82 L261.45,65.75 L261.88,65.68 L262.30,65.61 L262.72,65.54 L263.14,65.47 L263.57,65.40 L263.99,65.33 L264.41,65.26 L264.83,65.19 L265.26,65.12 L265.68,65.05 L266.10,64.99 L266.53,64.92 L266.95,64.85 L267.37,64.78 L267.79,64.71 L268.22,64.64 L268.64,64.57 L269.06,64.50 L269.48,64.44 L269.91,64.37 L270.33,64.30 L270.75,64.23 L271.18,64.16 L271.60,64.10 L272.02,64.03 L272.45,63.96 L272.87,63.90 L273.29,63.84 L273.71,63.77 L274.14,63.71 L274.56,63.64 L274.98,63.58 L275.41,63.51 L275.83,63.45 L276.25,63.39 L276.68,63.32 L277.10,63.26 L277.52,63.19 L277.95,63.13 L278.37,63.07 L278.79,63.00 L279.21,62.94 L279.64,62.88 L280.06,62.82 L280.48,62.75 L280.91,62.69 L281.33,62.63 L281.75,62.56 L282.18,62.50 L282.60,62.44 L283.02,62.38 L283.45,62.32 L283.87,62.25 L284.30,62.19 L284.72,62.13 L285.14,62.06 L285.57,61.99 L285.99,61.91 L286.41,61.84 L286.84,61.77 L287.26,61.69 L287.68,61.62 L288.11,61.54 L288.53,61.47 L288.95,61.40 L289.38,61.32 L289.80,61.25 L290.22,61.17 L290.65,61.10 L291.07,61.03 L291.50,60.95 L291.92,60.88 L292.34,60.81 L292.77,60.73 L293.19,60.66 L293.61,60.59 L294.04,60.52 L294.46,60.44 L294.89,60.37 L295.31,60.30 L295.73,60.23 L296.16,60.15 L296.58,60.08 L297.00,60.01 L297.43,59.94 L297.85,59.86 L298.28,59.80 L298.70,59.74 L299.12,59.69 L299.55,59.63 L299.97,59.57 L300.39,59.52 L300.82,59.46 L301.24,59.40 L301.67,59.35 L302.09,59.29 L302.51,59.23 L302.94,59.18 L303.36,59.12 L303.79,59.07 L304.21,59.01 L304.63,58.95 L305.06,58.90 L305.48,58.84 L305.91,58.79 L306.33,58.73 L306.75,58.67 L307.18,58.62 L307.60,58.56 L308.03,58.50 L308.45,58.45 L308.87,58.39 L309.30,58.34 L309.72,58.28 L310.15,58.23 L310.57,58.17 L311.00,58.11 L311.42,58.06 L311.84,58.00 L312.27,57.95 L312.69,57.89 L313.12,57.84 L313.54,57.79 L313.96,57.73 L314.39,57.68 L314.81,57.63 L315.24,57.57 L315.66,57.52 L316.09,57.47 L316.51,57.42 L316.93,57.36 L317.36,57.31 L317.78,57.26 L318.21,57.20 L318.63,57.15 L319.05,57.09 L319.48,57.04 L319.90,56.98 L320.33,56.93 L320.75,56.87 L321.18,56.81 L321.60,56.75 L322.02,56.69 L322.45,56.63 L322.87,56.57 L323.30,56.51 L323.72,56.44 L324.15,56.38 L324.57,56.32 L325.00,56.26 L325.42,56.20 L325.84,56.15 L326.27,56.09 L326.69,56.04 L327.12,55.99 L327.54,55.95 L327.97,55.90 L328.39,55.87 L328.81,55.83 L329.24,55.80 L329.66,55.77 L330.09,55.75 L330.51,55.73 L330.93,55.72 L331.36,55.71 L331.78,55.70 L332.21,55.70 L332.63,55.70 L333.06,55.70 L333.48,55.71 L333.91,55.72 L334.34,55.73 L334.76,55.75 L335.19,55.77 L335.62,55.79 L336.05,55.82 L336.47,55.85 L336.90,55.89 L337.33,55.92 L337.76,55.96 L338.19,56.01 L338.62,56.05 L339.06,56.10 L339.49,56.15 L339.92,56.21 L340.36,56.27 L340.79,56.33 L341.23,56.39 L341.66,56.46 L342.09,56.54 L342.52,56.63 L342.94,56.74 L343.35,56.86 L343.75,57.00 L344.14,57.16 L344.52,57.34 L344.88,57.55 L345.23,57.79 L345.57,58.05 L345.89,58.34 L346.19,58.64 L346.49,58.96 L346.77,59.29 L347.04,59.63 L347.31,59.98 L347.56,60.33 L347.81,60.68 L348.05,61.04 L348.28,61.40 L348.50,61.77 L348.71,62.14 L348.91,62.51 L349.10,62.89 L349.27,63.28 L349.44,63.67 L349.60,64.07 L349.74,64.47 L349.88,64.88 L350.00,65.30" stroke="#000"/>
<path d="M35.22,215.00 L36.87,206.20 L37.10,204.97 L37.35,203.74 L37.61,202.52 L37.89,201.30 L38.18,200.08 L38.49,198.87 L38.82,197.66 L39.16,196.46 L39.51,195.26 L39.88,194.06 L40.27,192.87 L40.67,191.68 L41.08,190.50 L41.51,189.33 L41.95,188.16 L42.41,186.99 L42.88,185.83 L43.36,184.68 L43.86,183.53 L44.37,182.39 L44.89,181.26 L45.43,180.13 L45.98,179.00 L46.55,177.89 L47.12,176.78 L47.71,175.68 L48.32,174.58 L48.95,173.50 L49.58,172.42 L50.23,171.35 L50.89,170.28 L51.56,169.23 L52.24,168.18 L52.93,167.14 L53.63,166.11 L54.35,165.09 L55.07,164.07 L55.81,163.07 L56.56,162.08 L57.31,161.09 L58.08,160.11 L58.86,159.15 L59.64,158.19 L60.44,157.25 L61.25,156.33 L62.06,155.41 L62.89,154.51 L63.72,153.61 L64.57,152.73 L65.42,151.86 L66.28,150.99 L67.15,150.14 L68.02,149.29 L68.89,148.46 L69.78,147.63 L70.67,146.82 L71.57,146.01 L72.48,145.21 L73.40,144.42 L74.32,143.65 L75.25,142.88 L76.19,142.11 L77.14,141.36 L78.09,140.62 L79.05,139.89 L80.01,139.16 L80.98,138.44 L81.96,137.74 L82.95,137.04 L83.94,136.34 L84.93,135.66 L85.93,134.98 L86.94,134.32 L87.95,133.66 L88.97,133.01 L90.00,132.37 L91.02,131.73 L92.06,131.10 L93.09,130.48 L94.14,129.88 L95.18,129.31 L96.23,128.75 L97.29,128.20 L98.35,127.66 L99.41,127.12 L100.48,126.59 L101.55,126.07 L102.62,125.55 L103.70,125.04 L104.78,124.54 L105.87,124.05 L106.96,123.52 L108.05,123.00 L109.15,122.48 L110.25,121.98 L111.36,121.47 L112.46,120.97 L113.57,120.48 L114.69,120.00 L115.80,119.52 L116.93,119.05 L118.05,118.58 L119.17,118.10 L120.30,117.63 L121.44,117.16 L122.57,116.70 L123.71,116.25 L124.85,115.80 L125.99,115.35 L127.14,114.91 L128.29,114.48 L129.44,114.05 L130.59,113.62 L131.75,113.20 L132.91,112.78 L134.07,112.37 L135.23,111.96 L136.39,111.56 L137.56,111.16 L138.73,110.76 L139.90,110.37 L141.07,109.98 L142.25,109.60 L143.43,109.21 L144.60,108.84 L145.78,108.46 L146.97,108.09 L148.15,107.72 L149.33,107.34 L150.52,106.96 L151.71,106.59 L152.90,106.22 L154.09,105.85 L155.28,105.48 L156.47,105.12 L157.66,104.75 L158.86,104.39 L160.06,104.04 L161.25,103.68 L162.45,103.33 L163.65,102.98 L164.85,102.63 L166.05,102.29 L167.25,101.94 L168.45,101.60 L169.65,101.26 L170.85,100.92 L172.06,100.58 L173.26,100.25 L174.46,99.92 L175.67,99.60 L176.87,99.27 L178.07,98.95 L179.28,98.62 L180.48,98.30 L181.69,97.98 L182.89,97.66 L184.09,97.34 L185.30,97.02 L186.50,96.70 L187.70,96.38 L188.91,96.06 L190.11,95.74 L191.31,95.43 L192.51,95.12 L193.71,94.81 L194.91,94.49 L196.11,94.18 L197.31,93.87 L198.51,93.56 L199.71,93.25 L200.91,92.94 L202.11,92.63 L203.30,92.32 L204.50,92.01 L205.70,91.70 L206.89,91.39 L208.09,91.08 L209.28,90.77 L210.48,90.46 L211.67,90.15 L212.86,89.84 L214.06,89.53 L215.25,89.22 L216.44,88.91 L217.63,88.60 L218.83,88.29 L220.02,87.98 L221.21,87.68 L222.40,87.38 L223.59,87.08 L224.78,86.78 L225.97,86.48 L227.16,86.18 L228.35,85.88 L229.54,85.58 L230.72,85.28 L231.91,84.98 L233.10,84.68 L234.29,84.38 L235.47,84.08 L236.66,83.79 L237.85,83.49 L239.03,83.20 L240.22,82.92 L241.40,82.63 L242.59,82.35 L243.77,82.06 L244.96,81.78 L246.14,81.49 L247.33,81.21 L248.51,80.92 L249.69,80.64 L250.88,80.36 L252.06,80.07 L253.24,79.79 L254.43,79.51 L255.61,79.22 L256.79,78.93 L257.97,78.64 L259.15,78.35 L260.34,78.06 L261.52,77.76 L262.70,77.47 L263.88,77.18 L265.06,76.89 L266.24,76.60 L267.42,76.31 L268.60,76.02 L269.78,75.73 L270.96,75.44 L272.14,75.15 L273.32,74.86 L274.50,74.57 L275.68,74.28 L276.86,73.99 L278.04,73.70 L279.22,73.41 L280.39,73.13 L281.57,72.85 L282.75,72.57 L283.93,72.29 L285.11,72.01 L286.29,71.72 L287.46,71.44 L288.64,71.16 L289.82,70.87 L291.00,70.59 L292.18,70.30 L293.35,70.02 L294.53,69.73 L295.71,69.44 L296.89,69.14 L298.06,68.85 L299.24,68.52 L300.42,68.19 L301.59,67.85 L302.77,67.52 L303.95,67.18 L305.13,66.84 L306.30,66.50 L307.48,66.15 L308.66,65.80 L309.83,65.45 L311.01,65.10 L312.19,64.74 L313.36,64.38 L314.54,64.02 L315.72,63.66 L316.90,63.29 L318.07,62.91 L319.25,62.54 L320.43,62.16 L321.60,61.77 L322.78,61.37 L323.96,60.95 L325.14,60.53 L326.31,60.11 L327.49,59.68 L328.67,59.25 L329.85,58.81 L331.02,58.37 L332.20,57.92 L333.38,57.47 L334.56,57.00 L335.74,56.50 L336.91,56.00 L338.09,55.50 L339.27,54.99 L340.45,54.47 L341.63,53.95 L342.81,53.39 L343.99,52.81 L345.17,52.23 L346.34,51.59 L347.52,50.84 L348.70,50.08 L349.88,49.32" stroke="#f00"/>
<path d="M60.72,215.60 L67.16,206.50 L67.39,206.17 L67.61,205.85 L67.84,205.53 L68.07,205.21 L68.30,204.90 L68.54,204.58 L68.77,204.27 L69.00,203.96 L69.23,203.64 L69.47,203.33 L69.70,203.02 L69.94,202.71 L70.18,202.40 L70.41,202.09 L70.65,201.78 L70.89,201.47 L71.13,201.16 L71.37,200.86 L71.61,200.55 L71.86,200.24 L72.10,199.94 L72.34,199.63 L72.59,199.33 L72.83,199.03 L73.08,198.72 L73.32,198.42 L73.57,198.12 L73.82,197.82 L74.07,197.52 L74.32,197.22 L74.57,196.92 L74.82,196.62 L75.07,196.32 L75.32,196.02 L75.58,195.73 L75.83,195.43 L76.08,195.13 L76.34,194.84 L76.60,194.54 L76.85,194.25 L77.11,193.96 L77.37,193.66 L77.63,193.37 L77.89,193.08 L78.15,192.79 L78.41,192.49 L78.67,192.19 L78.93,191.89 L79.19,191.60 L79.46,191.30 L79.72,191.00 L79.99,190.71 L80.25,190.41 L80.52,190.12 L80.79,189.83 L81.06,189.54 L81.32,189.24 L81.59,188.95 L81.86,188.66 L82.13,188.37 L82.40,188.08 L82.68,187.79 L82.95,187.51 L83.22,187.22 L83.50,186.93 L83.77,186.64 L84.04,186.36 L84.32,186.07 L84.60,185.79 L84.87,185.51 L85.15,185.22 L85.43,184.94 L85.71,184.66 L85.99,184.38 L86.27,184.10 L86.55,183.82 L86.83,183.54 L87.11,183.26 L87.40,182.98 L87.68,182.70 L87.96,182.43 L88.25,182.15 L88.53,181.87 L88.82,181.60 L89.10,181.33 L89.39,181.05 L89.68,180.78 L89.97,180.51 L90.26,180.24 L90.55,179.97 L90.84,179.71 L91.13,179.44 L91.42,179.18 L91.71,178.91 L92.00,178.65 L92.29,178.39 L92.59,178.13 L92.88,177.87 L93.18,177.61 L93.47,177.35 L93.77,177.09 L94.06,176.83 L94.36,176.57 L94.66,176.31 L94.96,176.06 L95.25,175.80 L95.55,175.55 L95.85,175.29 L96.15,175.04 L96.45,174.78 L96.75,174.53 L97.06,174.28 L97.36,174.03 L97.66,173.78 L97.96,173.53 L98.27,173.28 L98.57,173.03 L98.88,172.78 L99.18,172.53 L99.49,172.28 L99.80,172.04 L100.10,171.79 L100.41,171.55 L100.72,171.30 L101.03,171.06 L101.34,170.82 L101.65,170.57 L101.96,170.33 L102.27,170.09 L102.58,169.85 L102.89,169.61 L103.20,169.37 L103.51,169.13 L103.83,168.89 L104.14,168.66 L104.45,168.42 L104.77,168.18 L105.08,167.95 L105.40,167.71 L105.71,167.48 L106.03,167.24 L106.35,167.01 L106.66,166.78 L106.98,166.55 L107.30,166.32 L107.62,166.08 L107.94,165.85 L108.26,165.63 L108.58,165.40 L108.90,165.17 L109.22,164.94 L109.54,164.71 L109.86,164.49 L110.18,164.26 L110.50,164.04 L110.83,163.81 L111.15,163.59 L111.47,163.36 L111.80,163.14 L112.12,162.92 L112.45,162.70 L112.77,162.49 L113.10,162.27 L113.42,162.05 L113.75,161.84 L114.08,161.63 L114.40,161.41 L114.73,161.20 L115.06,160.99 L115.39,160.77 L115.72,160.56 L116.05,160.35 L116.38,160.14 L116.71,159.93 L117.04,159.72 L117.37,159.51 L117.70,159.30 L118.03,159.10 L118.36,158.89 L118.70,158.68 L119.03,158.48 L119.36,158.27 L119.70,158.07 L120.03,157.87 L120.36,157.66 L120.70,157.46 L121.03,157.26 L121.37,157.06 L121.70,156.85 L122.04,156.65 L122.38,156.45 L122.71,156.26 L123.05,156.06 L123.39,155.86 L123.72,155.66 L124.06,155.46 L124.40,155.25 L124.74,155.05 L125.08,154.84 L125.42,154.64 L125.76,154.43 L126.10,154.23 L126.44,154.02 L126.78,153.82 L127.12,153.62 L127.46,153.42 L127.80,153.22 L128.14,153.01 L128.48,152.81 L128.83,152.61 L129.17,152.41 L129.51,152.21 L129.85,152.02 L130.20,151.82 L130.54,151.62 L130.88,151.42 L131.23,151.23 L131.57,151.03 L131.92,150.83 L132.26,150.64 L132.61,150.44 L132.95,150.25 L133.30,150.06 L133.65,149.86 L133.99,149.67 L134.34,149.48 L134.68,149.28 L135.03,149.09 L135.38,148.90 L135.73,148.71 L136.07,148.52 L136.42,148.33 L136.77,148.14 L137.12,147.95 L137.47,147.76 L137.82,147.58 L138.17,147.39 L138.51,147.20 L138.86,147.01 L139.21,146.83 L139.56,146.64 L139.91,146.46 L140.26,146.27 L140.61,146.09 L140.97,145.90 L141.32,145.72 L141.67,145.53 L142.02,145.35 L142.37,145.16 L142.72,144.98 L143.07,144.79 L143.43,144.61 L143.78,144.42 L144.13,144.24 L144.48,144.06 L144.84,143.87 L145.19,143.69 L145.54,143.51 L145.90,143.32 L146.25,143.14 L146.60,142.96 L146.96,142.78 L147.31,142.60 L147.67,142.42 L148.02,142.24 L148.37,142.06 L148.73,141.88 L149.08,141.70 L149.44,141.52 L149.79,141.34 L150.15,141.16 L150.50,140.98 L150.86,140.81 L151.22,140.63 L151.57,140.45 L151.93,140.28 L152.28,140.10 L152.64,139.92 L153.00,139.75 L153.35,139.57 L153.71,139.40 L154.07,139.22 L154.42,139.04 L154.78,138.87 L155.14,138.70 L155.49,138.52 L155.85,138.35 L156.21,138.17 L156.57,138.00 L156.92,137.83 L157.28,137.65 L157.64,137.48 L158.00,137.31 L158.36,137.14 L158.72,136.97 L159.07,136.79 L159.43,136.62 L159.79,136.45 L160.15,136.28 L160.51,136.11 L160.87,135.95 L161.23,135.78 L161.59,135.61 L161.94,135.45 L162.30,135.28 L162.66,135.11 L163.02,134.95 L163.38,134.78 L163.74,134.62 L164.10,134.45 L164.46,134.29 L164.82,134.12 L165.18,133.96 L165.54,133.79 L165.90,133.63 L166.26,133.46 L166.62,133.30 L166.98,133.13 L167.34,132.97 L167.70,132.81 L168.06,132.64 L168.42,132.48 L168.78,132.32 L169.15,132.15 L169.51,131.99 L169.87,131.83 L170.23,131.66 L170.59,131.50 L170.95,131.34 L171.31,131.18 L171.67,131.01 L172.03,130.85 L172.39,130.69 L172.75,130.53 L173.12,130.36 L173.48,130.20 L173.84,130.04 L174.20,129.88 L174.56,129.72 L174.92,129.56 L175.28,129.39 L175.65,129.23 L176.01,129.07 L176.37,128.91 L176.73,128.75 L177.09,128.59 L177.45,128.43 L177.82,128.27 L178.18,128.10 L178.54,127.94 L178.90,127.78 L179.26,127.62 L179.62,127.46 L179.99,127.30 L180.35,127.14 L180.71,126.98 L181.07,126.82 L181.43,126.67 L181.79,126.51 L182.16,126.35 L182.52,126.19 L182.88,126.03 L183.24,125.87 L183.60,125.71 L183.97,125.55 L184.33,125.40 L184.69,125.24 L185.05,125.08 L185.41,124.92 L185.78,124.76 L186.14,124.60 L186.50,124.44 L186.86,124.28 L187.22,124.12 L187.58,123.97 L187.95,123.81 L188.31,123.65 L188.67,123.49 L189.03,123.33 L189.39,123.17 L189.76,123.01 L190.12,122.85 L190.48,122.70 L190.84,122.54 L191.20,122.38 L191.56,122.22 L191.93,122.06 L192.29,121.90 L192.65,121.74 L193.01,121.58 L193.37,121.42 L193.74,121.27 L194.10,121.11 L194.46,120.95 L194.82,120.79 L195.18,120.63 L195.54,120.47 L195.91,120.31 L196.27,120.15 L196.63,120.00 L196.99,119.84 L197.35,119.68 L197.72,119.52 L198.08,119.36 L198.44,119.20 L198.80,119.04 L199.16,118.88 L199.52,118.73 L199.89,118.57 L200.25,118.41 L200.61,118.26 L200.97,118.11 L201.33,117.96 L201.70,117.81 L202.06,117.66 L202.42,117.51 L202.78,117.35 L203.14,117.20 L203.50,117.05 L203.87,116.90 L204.23,116.75 L204.59,116.60 L204.95,116.45 L205.31,116.30 L205.68,116.14 L206.04,115.99 L206.40,115.84 L206.76,115.69 L207.12,115.54 L207.49,115.39 L207.85,115.24 L208.21,115.09 L208.57,114.94 L208.93,114.78 L209.30,114.63 L209.66,114.48 L210.02,114.33 L210.38,114.18 L210.74,114.03 L211.10,113.88 L211.47,113.73 L211.83,113.58 L212.19,113.43 L212.55,113.27 L212.91,113.12 L213.28,112.97 L213.64,112.82 L214.00,112.67 L214.36,112.52 L214.72,112.37 L215.09,112.22 L215.45,112.07 L215.81,111.93 L216.17,111.78 L216.53,111.64 L216.90,111.50 L217.26,111.35 L217.62,111.21 L217.98,111.06 L218.34,110.92 L218.71,110.77 L219.07,110.63 L219.43,110.48 L219.79,110.34 L220.16,110.19 L220.52,110.05 L220.88,109.90 L221.24,109.76 L221.60,109.61 L221.97,109.47 L222.33,109.32 L222.69,109.18 L223.05,109.03 L223.41,108.89 L223.78,108.74 L224.14,108.60 L224.50,108.46 L224.86,108.31 L225.23,108.17 L225.59,108.02 L225.95,107.88 L226.31,107.73 L226.67,107.59 L227.04,107.44 L227.40,107.30 L227.76,107.15 L228.12,107.01 L228.48,106.86 L228.85,106.72 L229.21,106.57 L229.57,106.43 L229.93,106.28 L230.29,106.14 L230.66,105.99 L231.02,105.85 L231.38,105.70 L231.74,105.56 L232.10,105.41 L232.47,105.26 L232.83,105.11 L233.19,104.96 L233.55,104.81 L233.91,104.66 L234.27,104.51 L234.64,104.36 L235.00,104.21 L235.36,104.06 L235.72,103.91 L236.08,103.76 L236.44,103.60 L236.81,103.45 L237.17,103.30 L237.53,103.15 L237.89,103.00 L238.25,102.85 L238.61,102.70 L238.97,102.55 L239.33,102.39 L239.70,102.24 L240.06,102.09 L240.42,101.94 L240.78,101.79 L241.14,101.63 L241.50,101.48 L241.86,101.33 L242.22,101.18 L242.58,101.02 L242.94,100.87 L243.30,100.72 L243.66,100.57 L244.02,100.41 L244.39,100.26 L244.75,100.11 L245.11,99.95 L245.47,99.80 L245.83,99.64 L246.19,99.49 L246.55,99.34 L246.91,99.18 L247.27,99.03 L247.63,98.87 L247.99,98.72 L248.35,98.56 L248.70,98.41 L249.06,98.25 L249.42,98.10 L249.78,97.94 L250.14,97.78 L250.50,97.63 L250.86,97.47 L251.22,97.32 L251.58,97.16 L251.94,97.01 L252.30,96.85 L252.65,96.69 L253.01,96.54 L253.37,96.38 L253.73,96.22 L254.09,96.07 L254.45,95.91 L254.80,95.75 L255.16,95.60 L255.52,95.44 L255.88,95.28 L256.23,95.12 L256.59,94.96 L256.95,94.80 L257.31,94.64 L257.66,94.48 L258.02,94.32 L258.38,94.16 L258.73,94.00 L259.09,93.84 L259.45,93.68 L259.80,93.52 L260.16,93.36 L260.52,93.20 L260.87,93.03 L261.23,92.87 L261.58,92.71 L261.94,92.55 L262.29,92.38 L262.65,92.22 L263.00,92.05 L263.36,91.89 L263.71,91.72 L264.07,91.56 L264.42,91.39 L264.77,91.23 L265.13,91.06 L265.48,90.90 L265.84,90.74 L266.19,90.58 L266.54,90.41 L266.90,90.25 L267.25,90.09 L267.60,89.92 L267.95,89.76 L268.31,89.59 L268.66,89.43 L269.01,89.26 L269.36,89.10 L269.71,88.93 L270.06,88.76 L270.41,88.59 L270.77,88.43 L271.12,88.26 L271.47,88.09 L271.82,87.92 L272.17,87.75 L272.52,87.58 L272.87,87.41 L273.21,87.24 L273.56,87.07 L273.91,86.89 L274.26,86.72 L274.61,86.55 L274.96,86.38 L275.30,86.20 L275.65,86.03 L276.00,85.85 L276.35,85.68 L276.69,85.50 L277.04,85.33 L277.39,85.15 L277.73,84.97 L278.08,84.79 L278.42,84.62 L278.77,84.44 L279.11,84.26 L279.46,84.08 L279.80,83.90 L280.14,83.71 L280.49,83.53 L280.83,83.34 L281.17,83.15 L281.52,82.96 L281.86,82.77 L282.20,82.58 L282.54,82.39 L282.89,82.20 L283.23,82.01 L283.57,81.82 L283.91,81.63 L284.25,81.43 L284.59,81.24 L284.93,81.05 L285.27,80.85 L285.61,80.66 L285.95,80.46 L286.28,80.26 L286.62,80.07 L286.96,79.87 L287.30,79.67 L287.63,79.47 L287.97,79.27 L288.31,79.07 L288.64,78.87 L288.98,78.67 L289.31,78.47 L289.65,78.27 L289.98,78.07 L290.32,77.86 L290.65,77.66 L290.98,77.45 L291.32,77.25 L291.65,77.04 L291.98,76.83 L292.31,76.63 L292.64,76.43 L292.97,76.23 L293.30,76.03 L293.63,75.83 L293.96,75.62 L294.29,75.42 L294.62,75.22 L294.95,75.01 L295.28,74.81 L295.60,74.60 L295.93,74.40 L296.26,74.19 L296.59,73.98 L296.92,73.78 L297.24,73.55 L297.57,73.32 L297.90,73.08 L298.22,72.85 L298.55,72.61 L298.87,72.38 L299.20,72.14 L299.52,71.90 L299.84,71.66 L299.33,72.04 L299.47,71.94 L299.60,71.84 L299.74,71.74 L299.87,71.63 L300.01,71.53 L300.14,71.43 L300.28,71.33 L300.41,71.23 L300.54,71.12 L300.68,71.02 L300.81,70.92 L300.94,70.81 L301.08,70.71 L301.21,70.61 L301.34,70.50 L301.47,70.40 L301.61,70.29 L301.74,70.19 L301.87,70.08 L302.00,69.98 L302.13,69.87 L302.26,69.76 L302.39,69.66 L302.52,69.55 L302.65,69.44 L302.78,69.33 L302.91,69.23 L303.04,69.12 L303.17,69.01 L303.30,68.90 L303.43,68.79 L303.56,68.69 L303.69,68.58 L303.81,68.47 L303.94,68.36 L304.07,68.25 L304.20,68.14 L304.33,68.03 L304.45,67.92 L304.58,67.81 L304.71,67.70 L304.84,67.59 L304.97,67.48 L305.09,67.37 L305.22,67.26 L305.35,67.15 L305.48,67.04 L305.61,66.93 L305.73,66.82 L305.86,66.71 L305.99,66.60 L306.12,66.49 L306.24,66.38 L306.37,66.27 L306.50,66.15 L306.62,66.04 L306.75,65.93 L306.87,65.82 L307.00,65.70 L307.12,65.59 L307.24,65.47 L307.37,65.36 L307.49,65.24 L307.61,65.13 L307.73,65.01 L307.85,64.89 L307.97,64.78 L308.09,64.66 L308.21,64.54 L308.33,64.42 L308.44,64.30 L308.56,64.18 L308.68,64.06 L308.80,63.94 L308.91,63.82 L309.03,63.69 L309.14,63.57 L309.26,63.45 L309.38,63.32 L309.49,63.20 L309.61,63.08 L309.72,62.95 L309.84,62.82 L309.95,62.70 L310.07,62.57 L310.18,62.45 L310.29,62.32 L310.41,62.19 L310.52,62.06 L310.64,61.93 L310.75,61.81 L310.86,61.68 L310.98,61.55 L311.09,61.42 L311.20,61.29 L311.31,61.15 L311.43,61.02 L311.54,60.89 L311.65,60.76 L311.76,60.63 L311.87,60.49 L311.98,60.36 L312.08,60.22 L312.19,60.09 L312.30,59.95 L312.40,59.82 L312.51,59.68 L312.61,59.54 L312.72,59.41 L312.82,59.27 L312.92,59.13 L313.02,58.99 L313.12,58.85 L313.22,58.71 L313.32,58.57 L313.41,58.43 L313.51,58.29 L313.60,58.15 L313.69,58.00 L313.78,57.86 L313.88,57.72 L313.96,57.57 L314.05,57.43 L314.14,57.28 L314.22,57.13 L314.31,56.99 L314.39,56.84 L314.47,56.69 L314.55,56.54 L314.62,56.40 L314.70,56.25 L314.77,56.10 L314.85,55.94 L314.92,55.79 L314.99,55.64 L315.05,55.49 L315.12,55.33 L315.18,55.18 L315.24,55.03 L315.30,54.87 L315.36,54.72 L315.42,54.56 L315.47,54.40 L315.52,54.24 L315.57,54.09 L315.62,53.93 L315.67,53.77 L315.71,53.61 L315.75,53.45 L315.79,53.28 L315.83,53.12 L315.87,52.96 L315.90,52.80 L315.93,52.63 L315.97,52.47 L316.00,52.30 L316.03,52.14 L316.05,51.97 L316.08,51.81 L316.11,51.64 L316.13,51.48 L316.16,51.31 L316.18,51.14 L316.20,50.97 L316.22,50.81 L316.24,50.64 L316.26,50.47 L316.28,50.30 L316.30,50.13 L316.32,49.97 L316.34,49.80 L316.36,49.63 L316.38,49.46 L316.40,49.29 L316.42,49.12 L316.44,48.95 L316.46,48.78 L316.48,48.62 L316.50,48.45 L316.52,48.28 L316.54,48.11 L316.57,47.94 L316.59,47.77 L316.61,47.60 L316.64,47.44 L316.66,47.27 L316.69,47.10 L316.72,46.93 L316.75,46.77 L316.78,46.60 L316.81,46.43 L316.85,46.27 L316.88,46.10 L316.92,45.94 L316.96,45.77 L316.99,45.61 L317.03,45.44 L317.07,45.28 L317.12,45.11 L317.16,44.95 L317.20,44.79 L317.25,44.62 L317.29,44.46 L317.33,44.30 L317.38,44.13 L317.42,43.97 L317.47,43.81 L317.52,43.65 L317.56,43.48 L317.61,43.32 L317.65,43.16 L317.70,43.00 L317.74,42.84 L317.79,42.67 L317.83,42.51 L317.88,42.35 L317.92,42.19 L317.97,42.03 L318.01,41.86 L318.05,41.70 L318.09,41.54 L318.13,41.38 L318.17,41.22 L318.21,41.06 L318.25,40.89 L318.29,40.73 L318.33,40.57 L318.37,40.41 L318.41,40.25 L318.46,40.09 L318.51,39.93 L318.56,39.77 L318.62,39.61 L318.68,39.46 L318.74,39.30 L318.81,39.14 L318.88,38.99 L318.97,38.83 L319.05,38.68 L319.14,38.53 L319.24,38.38 L319.35,38.23 L319.47,38.08 L319.59,37.94 L319.71,37.81 L319.85,37.68 L319.98,37.56 L320.12,37.46 L320.27,37.37 L320.42,37.29 L320.56,37.24 L320.71,37.21 L320.87,37.20 L321.02,37.21 L321.17,37.25 L321.32,37.30 L321.46,37.38 L321.61,37.46 L321.75,37.57 L321.89,37.68 L322.03,37.81 L322.16,37.95 L322.28,38.09 L322.40,38.24 L322.52,38.39 L322.63,38.54 L322.73,38.69 L322.82,38.85 L322.91,39.00 L323.00,39.15 L323.08,39.31 L323.15,39.46 L323.22,39.62 L323.29,39.77 L323.35,39.93 L323.41,40.08 L323.47,40.24 L323.52,40.39 L323.58,40.55 L323.63,40.70 L323.68,40.86 L323.73,41.01 L323.79,41.17 L323.84,41.32 L323.89,41.48 L323.95,41.63 L324.00,41.79 L324.06,41.95 L324.12,42.10 L324.18,42.26 L324.25,42.41 L324.31,42.57 L324.37,42.72 L324.44,42.88 L324.51,43.03 L324.57,43.19 L324.64,43.34 L324.71,43.50 L324.78,43.65 L324.85,43.81 L324.92,43.96 L324.99,44.12 L325.06,44.27 L325.13,44.43 L325.20,44.58 L325.27,44.74 L325.34,44.89 L325.41,45.05 L325.48,45.20 L325.55,45.35 L325.62,45.51 L325.69,45.66 L325.76,45.81 L325.83,45.97 L325.90,46.12 L325.97,46.28 L326.04,46.43 L326.11,46.58 L326.17,46.74 L326.24,46.89 L326.31,47.04 L326.38,47.20 L326.44,47.35 L326.51,47.51 L326.58,47.66 L326.64,47.82 L326.71,47.97 L326.77,48.13 L326.84,48.28 L326.90,48.44 L326.96,48.60 L327.03,48.75 L327.09,48.91 L327.15,49.07 L327.21,49.23 L327.28,49.38 L327.34,49.54 L327.40,49.70 L327.46,49.85 L327.52,50.01 L327.58,50.17 L327.64,50.33 L327.70,50.48 L327.77,50.64 L327.83,50.80 L327.89,50.95 L327.95,51.11 L328.01,51.27 L328.07,51.42 L328.13,51.58 L328.19,51.73 L328.25,51.89 L328.32,52.04 L328.38,52.20 L328.44,52.35 L328.51,52.51 L328.57,52.66 L328.64,52.81 L328.70,52.97 L328.77,53.12 L328.84,53.27 L328.92,53.43 L328.99,53.58 L329.07,53.74 L329.14,53.89 L329.22,54.05 L329.31,54.20 L329.39,54.35 L329.48,54.51 L329.57,54.66 L329.66,54.80 L329.76,54.95 L329.86,55.08 L329.97,55.22 L330.08,55.35 L330.20,55.47 L330.31,55.58 L330.44,55.68 L330.57,55.78 L330.70,55.86 L330.84,55.94 L330.99,56.01 L331.14,56.07 L331.30,56.12 L331.45,56.16 L331.62,56.20 L331.78,56.23 L331.95,56.25 L332.12,56.27 L332.29,56.29 L332.47,56.30 L332.65,56.30 L332.82,56.31 L333.00,56.31 L333.18,56.31 L333.36,56.31 L333.54,56.30 L333.72,56.30 L333.90,56.30 L334.08,56.29 L334.26,56.29 L334.43,56.29 L334.61,56.29 L334.78,56.29 L334.95,56.29 L335.13,56.28 L335.30,56.28 L335.47,56.28 L335.64,56.28 L335.81,56.28 L335.98,56.28 L336.15,56.28 L336.32,56.27 L336.49,56.27 L336.66,56.27 L336.83,56.27 L337.00,56.27 L337.16,56.26 L337.33,56.26 L337.50,56.26 L337.66,56.26 L337.83,56.25 L337.99,56.25 L338.16,56.24 L338.32,56.24 L338.49,56.23 L338.65,56.23 L338.82,56.22 L338.98,56.21 L339.15,56.20 L339.31,56.19 L339.48,56.19 L339.64,56.18 L339.81,56.16 L339.97,56.15 L340.14,56.14 L340.30,56.13 L340.47,56.11 L340.63,56.10 L340.80,56.08 L340.96,56.06 L341.13,56.05 L341.29,56.03 L341.46,56.01 L341.62,55.99 L341.79,55.97 L341.96,55.94 L342.12,55.92 L342.29,55.90 L342.46,55.87 L342.62,55.84 L342.79,55.82 L342.95,55.79 L343.12,55.76 L343.29,55.73 L343.45,55.70 L343.62,55.67 L343.79,55.64 L343.95,55.61 L344.12,55.57 L344.29,55.54 L344.45,55.51 L344.62,55.47 L344.79,55.44 L344.95,55.40 L345.12,55.36 L345.28,55.32 L345.45,55.28 L345.61,55.25 L345.78,55.21 L345.94,55.16 L346.11,55.12 L346.27,55.08 L346.44,55.04 L346.60,54.99 L346.77,54.95 L346.93,54.91 L347.09,54.86 L347.26,54.82 L347.42,54.77 L347.58,54.72 L347.75,54.68 L347.91,54.63 L348.07,54.58 L348.23,54.53 L348.39,54.48 L348.56,54.43 L348.72,54.38 L348.88,54.33 L349.04,54.28 L349.20,54.23 L349.35,54.17 L349.51,54.12 L349.67,54.07 L349.83,54.01 L349.99,53.96 L350.14,53.90 L350.30,53.85" stroke="#00f"/>
<path d="M127.66,215.00 L140.76,205.83 L141.40,205.39 L142.04,204.96 L142.68,204.53 L143.33,204.10 L143.97,203.67 L144.62,203.24 L145.27,202.81 L145.91,202.39 L146.56,201.96 L147.21,201.54 L147.86,201.12 L148.52,200.71 L149.17,200.29 L149.82,199.87 L150.48,199.46 L151.13,199.05 L151.79,198.65 L152.45,198.24 L153.11,197.84 L153.77,197.43 L154.43,197.03 L155.09,196.63 L155.75,196.24 L156.42,195.84 L157.08,195.44 L157.75,195.05 L158.42,194.66 L159.08,194.27 L159.75,193.88 L160.42,193.49 L161.09,193.10 L161.76,192.72 L162.44,192.34 L163.11,191.97 L163.78,191.60 L164.46,191.23 L165.13,190.86 L165.81,190.50 L166.49,190.13 L167.16,189.77 L167.84,189.40 L168.52,189.04 L169.20,188.68 L169.88,188.33 L170.57,187.97 L171.25,187.61 L171.93,187.26 L172.62,186.88 L173.30,186.51 L173.99,186.13 L174.68,185.76 L175.36,185.38 L176.05,185.01 L176.74,184.64 L177.43,184.27 L178.12,183.90 L178.81,183.53 L179.51,183.17 L180.20,182.80 L180.89,182.44 L181.59,182.08 L182.28,181.72 L182.98,181.36 L183.67,181.00 L184.37,180.64 L185.07,180.28 L185.77,179.93 L186.46,179.57 L187.16,179.22 L187.86,178.86 L188.56,178.51 L189.27,178.16 L189.97,177.81 L190.67,177.46 L191.37,177.12 L192.08,176.77 L192.78,176.42 L193.49,176.08 L194.19,175.74 L194.90,175.39 L195.60,175.05 L196.31,174.71 L197.02,174.37 L197.73,174.03 L198.44,173.69 L199.15,173.36 L199.86,173.02 L200.57,172.68 L201.28,172.35 L201.99,172.01 L202.70,171.68 L203.41,171.34 L204.12,171.01 L204.84,170.68 L205.55,170.35 L206.27,170.02 L206.98,169.69 L207.70,169.36 L208.41,169.03 L209.13,168.70 L209.84,168.37 L210.56,168.05 L211.28,167.72 L211.99,167.40 L212.71,167.07 L213.43,166.75 L214.15,166.43 L214.87,166.11 L215.59,165.79 L216.31,165.47 L217.03,165.15 L217.75,164.83 L218.47,164.51 L219.19,164.19 L219.91,163.88 L220.63,163.56 L221.36,163.25 L222.08,162.93 L222.80,162.62 L223.52,162.30 L224.25,161.99 L224.97,161.68 L225.70,161.36 L226.42,161.04 L227.14,160.72 L227.87,160.40 L228.59,160.08 L229.32,159.76 L230.04,159.44 L230.77,159.13 L231.50,158.81 L232.22,158.49 L232.95,158.18 L233.67,157.86 L234.40,157.55 L235.13,157.23 L235.85,156.92 L236.58,156.60 L237.31,156.29 L238.04,155.98 L238.76,155.67 L239.49,155.35 L240.22,155.04 L240.95,154.74 L241.67,154.43 L242.40,154.13 L243.13,153.82 L243.86,153.52 L244.59,153.21 L245.32,152.91 L246.05,152.60 L246.77,152.30 L247.50,152.00 L248.23,151.69 L248.96,151.39 L249.69,151.09 L250.42,150.78 L251.15,150.48 L251.88,150.18 L252.61,149.88 L253.34,149.58 L254.06,149.28 L254.79,148.98 L255.52,148.68 L256.25,148.38 L256.98,148.08 L257.71,147.78 L258.44,147.48 L259.17,147.18 L259.90,146.88 L260.63,146.59 L261.35,146.29 L262.08,146.00 L262.81,145.71 L263.54,145.41 L264.27,145.12 L265.00,144.83 L265.73,144.53 L266.45,144.24 L267.18,143.95 L267.91,143.66 L268.64,143.36 L269.36,143.07 L270.09,142.78 L270.82,142.48 L271.55,142.19 L272.27,141.90 L273.00,141.60 L273.73,141.31 L274.45,141.02 L275.18,140.72 L275.91,140.43 L276.63,140.13 L277.36,139.84 L278.08,139.54 L278.81,139.25 L279.53,138.95 L280.26,138.66 L280.98,138.36 L281.71,138.06 L282.43,137.77 L283.15,137.47 L283.88,137.17 L284.60,136.87 L285.32,136.57 L286.05,136.27 L286.77,135.97 L287.49,135.67 L288.21,135.37 L288.93,135.07 L289.65,134.77 L290.38,134.46 L291.10,134.16 L291.82,133.85 L292.54,133.55 L293.25,133.24 L293.97,132.94 L294.69,132.63 L295.41,132.32 L296.13,132.01 L296.85,131.70 L297.56,131.39 L298.28,131.08 L298.99,130.77 L299.71,130.46 L300.43,130.14 L301.14,129.83 L301.85,129.51 L302.57,129.19 L303.28,128.88 L303.99,128.56 L304.71,128.24 L305.42,127.92 L306.13,127.60 L306.84,127.27 L307.55,126.95 L308.26,126.62 L308.97,126.30 L309.68,125.97 L310.39,125.64 L311.10,125.31 L311.80,124.98 L312.51,124.65 L313.22,124.32 L313.92,123.98 L314.63,123.65 L315.33,123.31 L316.04,122.97 L316.74,122.63 L317.44,122.29 L318.15,121.95 L318.85,121.60 L319.55,121.26 L320.25,120.91 L320.95,120.56 L321.65,120.21 L322.35,119.86 L323.04,119.51 L323.74,119.15 L324.44,118.80 L325.13,118.44 L325.83,118.09 L326.52,117.74 L327.22,117.38 L327.91,117.02 L328.60,116.67 L329.29,116.31 L329.98,115.95 L330.67,115.58 L331.36,115.22 L332.05,114.85 L332.74,114.48 L333.43,114.11 L334.11,113.74 L334.80,113.37 L335.49,112.99 L336.17,112.61 L336.85,112.23 L337.54,111.85 L338.22,111.44 L338.90,110.98 L339.58,110.52 L340.26,110.05 L340.94,109.59 L341.61,109.12 L342.29,108.65 L342.97,108.17 L343.64,107.70 L344.32,107.18 L344.99,106.62 L345.66,106.05 L346.33,105.48 L347.00,104.92 L347.67,104.34 L348.34,103.74 L349.01,103.12 L349.68,102.49 L350.34,101.86" stroke="#f0f"/>
</g>
<g stroke="#000" stroke-width="1.0">
<line x1="29.40" y1="206.55" x2="29.40" y2="203.15"/>
<line x1="29.40" y1="0.3" x2="29.40" y2="3.6999999999999997"/>
<line x1="71.57" y1="206.55" x2="71.57" y2="203.15"/>
<line x1="71.57" y1="0.3" x2="71.57" y2="3.6999999999999997"/>
<line x1="113.74" y1="206.55" x2="113.74" y2="203.15"/>
<line x1="113.74" y1="0.3" x2="113.74" y2="3.6999999999999997"/>
<line x1="155.91" y1="206.55" x2="155.91" y2="203.15"/>
<line x1="155.91" y1="0.3" x2="155.91" y2="3.6999999999999997"/>
<line x1="198.08" y1="206.55" x2="198.08" y2="203.15"/>
<line x1="198.08" y1="0.3" x2="198.08" y2="3.6999999999999997"/>
<line x1="240.25" y1="206.55" x2="240.25" y2="203.15"/>
<line x1="240.25" y1="0.3" x2="240.25" y2="3.6999999999999997"/>
<line x1="282.42" y1="206.55" x2="282.42" y2="203.15"/>
<line x1="282.42" y1="0.3" x2="282.42" y2="3.6999999999999997"/>
<line x1="324.59" y1="206.55" x2="324.59" y2="203.15"/>
<line x1="324.59" y1="0.3" x2="324.59" y2="3.6999999999999997"/>
</g>
<g stroke="#000" stroke-width="0.85">
<line x1="37.83" y1="206.55" x2="37.83" y2="204.45000000000002"/>
<line x1="37.83" y1="0.3" x2="37.83" y2="2.4"/>
<line x1="46.27" y1="206.55" x2="46.27" y2="204.45000000000002"/>
<line x1="46.27" y1="0.3" x2="46.27" y2="2.4"/>
<line x1="54.70" y1="206.55" x2="54.70" y2="204.45000000000002"/>
<line x1="54.70" y1="0.3" x2="54.70" y2="2.4"/>
<line x1="63.14" y1="206.55" x2="63.14" y2="204.45000000000002"/>
<line x1="63.14" y1="0.3" x2="63.14" y2="2.4"/>
<line x1="80.00" y1="206.55" x2="80.00" y2="204.45000000000002"/>
<line x1="80.00" y1="0.3" x2="80.00" y2="2.4"/>
<line x1="88.44" y1="206.55" x2="88.44" y2="204.45000000000002"/>
<line x1="88.44" y1="0.3" x2="88.44" y2="2.4"/>
<line x1="96.87" y1="206.55" x2="96.87" y2="204.45000000000002"/>
<line x1="96.87" y1="0.3" x2="96.87" y2="2.4"/>
<line x1="105.31" y1="206.55" x2="105.31" y2="204.45000000000002"/>
<line x1="105.31" y1="0.3" x2="105.31" y2="2.4"/>
<line x1="122.17" y1="206.55" x2="122.17" y2="204.45000000000002"/>
<line x1="122.17" y1="0.3" x2="122.17" y2="2.4"/>
<line x1="130.61" y1="206.55" x2="130.61" y2="204.45000000000002"/>
<line x1="130.61" y1="0.3" x2="130.61" y2="2.4"/>
<line x1="139.04" y1="206.55" x2="139.04" y2="204.45000000000002"/>
<line x1="139.04" y1="0.3" x2="139.04" y2="2.4"/>
<line x1="147.48" y1="206.55" x2="147.48" y2="204.45000000000002"/>
<line x1="147.48" y1="0.3" x2="147.48" y2="2.4"/>
<line x1="164.34" y1="206.55" x2="164.34" y2="204.45000000000002"/>
<line x1="164.34" y1="0.3" x2="164.34" y2="2.4"/>
<line x1="172.78" y1="206.55" x2="172.78" y2="204.45000000000002"/>
<line x1="172.78" y1="0.3" x2="172.78" y2="2.4"/>
<line x1="181.21" y1="206.55" x2="181.21" y2="204.45000000000002"/>
<line x1="181.21" y1="0.3" x2="181.21" y2="2.4"/>
<line x1="189.65" y1="206.55" x2="189.65" y2="204.45000000000002"/>
<line x1="189.65" y1="0.3" x2="189.65" y2="2.4"/>
<line x1="206.51" y1="206.55" x2="206.51" y2="204.45000000000002"/>
<line x1="206.51" y1="0.3" x2="206.51" y2="2.4"/>
<line x1="214.95" y1="206.55" x2="214.95" y2="204.45000000000002"/>
<line x1="214.95" y1="0.3" x2="214.95" y2="2.4"/>
<line x1="223.38" y1="206.55" x2="223.38" y2="204.45000000000002"/>
<line x1="223.38" y1="0.3" x2="223.38" y2="2.4"/>
<line x1="231.82" y1="206.55" x2="231.82" y2="204.45000000000002"/>
<line x1="231.82" y1="0.3" x2="231.82" y2="2.4"/>
<line x1="248.68" y1="206.55" x2="248.68" y2="204.45000000000002"/>
<line x1="248.68" y1="0.3" x2="248.68" y2="2.4"/>
<line x1="257.12" y1="206.55" x2="257.12" y2="204.45000000000002"/>
<line x1="257.12" y1="0.3" x2="257.12" y2="2.4"/>
<line x1="265.55" y1="206.55" x2="265.55" y2="204.45000000000002"/>
<line x1="265.55" y1="0.3" x2="265.55" y2="2.4"/>
<line x1="273.99" y1="206.55" x2="273.99" y2="204.45000000000002"/>
<line x1="273.99" y1="0.3" x2="273.99" y2="2.4"/>
<line x1="290.85" y1="206.55" x2="290.85" y2="204.45000000000002"/>
<line x1="290.85" y1="0.3" x2="290.85" y2="2.4"/>
<line x1="299.29" y1="206.55" x2="299.29" y2="204.45000000000002"/>
<line x1="299.29" y1="0.3" x2="299.29" y2="2.4"/>
<line x1="307.72" y1="206.55" x2="307.72" y2="204.45000000000002"/>
<line x1="307.72" y1="0.3" x2="307.72" y2="2.4"/>
<line x1="316.16" y1="206.55" x2="316.16" y2="204.45000000000002"/>
<line x1="316.16" y1="0.3" x2="316.16" y2="2.4"/>
<line x1="333.02" y1="206.55" x2="333.02" y2="204.45000000000002"/>
<line x1="333.02" y1="0.3" x2="333.02" y2="2.4"/>
<line x1="341.46" y1="206.55" x2="341.46" y2="204.45000000000002"/>
<line x1="341.46" y1="0.3" x2="341.46" y2="2.4"/>
<line x1="349.89" y1="206.55" x2="349.89" y2="204.45000000000002"/>
<line x1="349.89" y1="0.3" x2="349.89" y2="2.4"/>
</g>
<g stroke="#777" stroke-width="0.4">
<line x1="22.6" y1="20.60" x2="25.900000000000002" y2="20.60"/>
<line x1="356.6" y1="20.60" x2="353.3" y2="20.60"/>
<line x1="22.6" y1="41.30" x2="25.900000000000002" y2="41.30"/>
<line x1="356.6" y1="41.30" x2="353.3" y2="41.30"/>
<line x1="22.6" y1="62.00" x2="25.900000000000002" y2="62.00"/>
<line x1="356.6" y1="62.00" x2="353.3" y2="62.00"/>
<line x1="22.6" y1="82.70" x2="25.900000000000002" y2="82.70"/>
<line x1="356.6" y1="82.70" x2="353.3" y2="82.70"/>
<line x1="22.6" y1="103.40" x2="25.900000000000002" y2="103.40"/>
<line x1="356.6" y1="103.40" x2="353.3" y2="103.40"/>
<line x1="22.6" y1="124.10" x2="25.900000000000002" y2="124.10"/>
<line x1="356.6" y1="124.10" x2="353.3" y2="124.10"/>
<line x1="22.6" y1="144.80" x2="25.900000000000002" y2="144.80"/>
<line x1="356.6" y1="144.80" x2="353.3" y2="144.80"/>
<line x1="22.6" y1="165.50" x2="25.900000000000002" y2="165.50"/>
<line x1="356.6" y1="165.50" x2="353.3" y2="165.50"/>
<line x1="22.6" y1="186.20" x2="25.900000000000002" y2="186.20"/>
<line x1="356.6" y1="186.20" x2="353.3" y2="186.20"/>
</g>
<rect x="22.6" y="0.3" width="334.0" height="206.25" fill="none" stroke="#000" stroke-width="1.05"/>
<g font-size="10.4" fill="#111">
<text transform="translate(29.60,218.6) scale(1,1.1)" text-anchor="middle">0.0</text>
<text transform="translate(71.77,218.6) scale(1,1.1)" text-anchor="middle">0.1</text>
<text transform="translate(113.94,218.6) scale(1,1.1)" text-anchor="middle">0.2</text>
<text transform="translate(156.11,218.6) scale(1,1.1)" text-anchor="middle">0.3</text>
<text transform="translate(198.28,218.6) scale(1,1.1)" text-anchor="middle">0.4</text>
<text transform="translate(240.45,218.6) scale(1,1.1)" text-anchor="middle">0.5</text>
<text transform="translate(282.62,218.6) scale(1,1.1)" text-anchor="middle">0.6</text>
<text transform="translate(324.79,218.6) scale(1,1.1)" text-anchor="middle">0.7</text>
<text transform="translate(0.8,45.90) scale(1,1.12)" letter-spacing="0.5">10<tspan dy="-3.4" font-size="7.8" letter-spacing="0.3">-2</tspan></text>
<text transform="translate(0.8,108.00) scale(1,1.12)" letter-spacing="0.5">10<tspan dy="-3.4" font-size="7.8" letter-spacing="0.3">-5</tspan></text>
<text transform="translate(0.8,170.10) scale(1,1.12)" letter-spacing="0.5">10<tspan dy="-3.4" font-size="7.8" letter-spacing="0.3">-8</tspan></text>
</g>
<g fill="#3a3a3a">
<text x="39.5" y="33.7" font-size="8.6">1</text>
<rect x="45" y="30.9" width="3.1" height="0.8" fill="#555"/>
<rect x="51" y="30.2" width="40.8" height="1" fill="#7a7a7a"/>
<text x="52.2" y="24.9" font-size="8" font-style="italic">ξ</text>
<text x="55.4" y="27.7" font-size="8.6" textLength="34.8" lengthAdjust="spacingAndGlyphs">ph;approx</text>
<text x="55.2" y="42.4" font-size="8" font-style="italic">ξ</text>
<text x="58.6" y="44.8" font-size="8.6" textLength="27.4" lengthAdjust="spacingAndGlyphs">ph;exact</text>
</g>
<g fill="#222">
<rect x="182" y="227.1" width="7.2" height="0.8"/>
<text transform="translate(182.3,235) scale(1.18,1)" font-size="11" font-style="italic">q</text>
<text transform="translate(189.8,236.7) scale(1.1,1)" font-size="7.6" font-style="italic">m</text>
</g>
</svg>
</body></html>
